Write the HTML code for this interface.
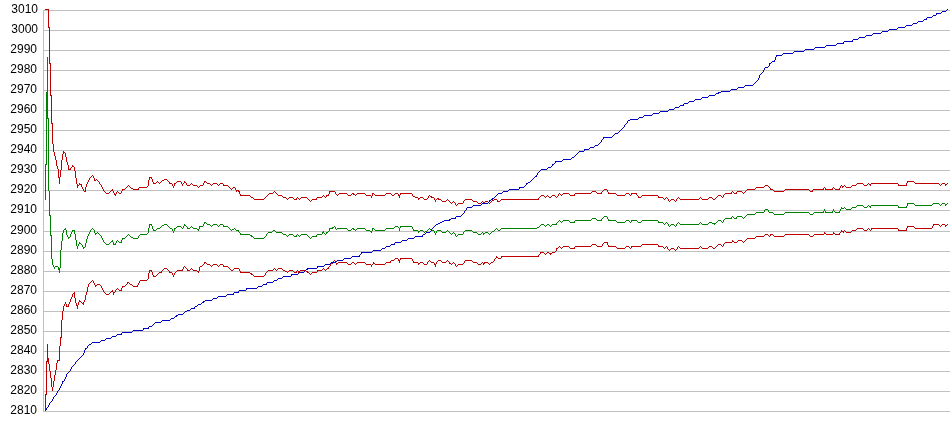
<!DOCTYPE html>
<html><head><meta charset="utf-8"><style>
html,body{margin:0;padding:0;background:#fff;}
body{width:950px;height:435px;overflow:hidden;position:relative;}
svg{position:absolute;left:0;top:0;}
#labs{position:absolute;left:0;top:0;width:40px;height:435px;filter:grayscale(1);}
.l{position:absolute;left:0;width:38px;text-align:right;font-family:"Liberation Sans",sans-serif;font-size:12px;line-height:14px;color:#000;}
</style></head><body>
<svg width="950" height="435" viewBox="0 0 950 435" shape-rendering="crispEdges"><rect x="0" y="0" width="950" height="435" fill="#fff"/><path fill="#c0c0c0" d="M43 10h907v1h-907zM43 30h907v1h-907zM43 50h907v1h-907zM43 70h907v1h-907zM43 90h907v1h-907zM43 110h907v1h-907zM43 130h907v1h-907zM43 150h907v1h-907zM43 170h907v1h-907zM43 190h907v1h-907zM43 210h907v1h-907zM43 231h907v1h-907zM43 251h907v1h-907zM43 271h907v1h-907zM43 291h907v1h-907zM43 311h907v1h-907zM43 331h907v1h-907zM43 351h907v1h-907zM43 371h907v1h-907zM43 391h907v1h-907zM43 411h907v1h-907zM43 10h1v402h-1z"/><path fill="#c00000" d="M45 394h1v17h-1zM46 361h1v34h-1zM47 344h1v18h-1zM48 358h1v6h-1zM49 364h1v7h-1zM50 371h1v7h-1zM51 378h1v9h-1zM52 387h1v4h-1zM53 381h1v6h-1zM54 375h1v6h-1zM55 370h1v5h-1zM56 363h1v7h-1zM57 360h1v3h-1zM58 360h1v1h-1zM59 346h1v15h-1zM60 337h1v9h-1zM61 320h1v18h-1zM62 311h1v9h-1zM63 306h1v5h-1zM64 304h1v2h-1zM65 302h1v2h-1zM66 304h1v3h-1zM67 306h1v1h-1zM68 304h1v3h-1zM69 302h1v2h-1zM70 299h1v3h-1zM71 297h1v2h-1zM72 294h1v3h-1zM73 293h1v1h-1zM74 292h1v6h-1zM75 298h1v5h-1zM76 303h1v3h-1zM77 305h1v4h-1zM78 302h1v3h-1zM79 300h1v2h-1zM80 301h1v1h-1zM81 302h1v1h-1zM82 303h1v1h-1zM83 302h1v3h-1zM84 300h1v2h-1zM85 295h1v5h-1zM86 292h1v3h-1zM87 287h1v5h-1zM88 284h1v3h-1zM89 283h1v1h-1zM90 282h1v1h-1zM91 281h1v1h-1zM92 280h1v1h-1zM93 281h1v2h-1zM94 283h1v2h-1zM95 285h1v2h-1zM96 285h1v1h-1zM97 284h1v1h-1zM98 284h1v1h-1zM99 284h1v1h-1zM100 285h1v1h-1zM101 286h1v2h-1zM102 288h1v2h-1zM103 290h1v2h-1zM104 292h1v1h-1zM105 293h1v1h-1zM106 294h1v1h-1zM107 294h1v1h-1zM108 294h1v1h-1zM109 293h1v1h-1zM110 292h1v1h-1zM111 291h1v1h-1zM112 290h1v2h-1zM113 292h1v3h-1zM114 292h1v1h-1zM115 290h1v2h-1zM116 289h1v1h-1zM117 288h1v1h-1zM118 289h1v1h-1zM119 290h1v1h-1zM120 290h1v1h-1zM121 288h1v3h-1zM122 286h1v2h-1zM123 286h1v1h-1zM124 286h1v1h-1zM125 285h1v1h-1zM126 284h1v1h-1zM127 282h1v2h-1zM128 282h1v1h-1zM129 283h1v1h-1zM130 284h1v1h-1zM131 284h1v1h-1zM132 285h1v1h-1zM133 286h1v1h-1zM134 286h1v1h-1zM135 286h1v1h-1zM136 286h1v1h-1zM137 285h1v2h-1zM138 283h1v2h-1zM139 281h1v2h-1zM140 280h1v1h-1zM141 280h1v1h-1zM142 280h1v1h-1zM143 280h1v1h-1zM144 280h1v1h-1zM145 280h1v1h-1zM146 280h1v1h-1zM147 279h1v1h-1zM148 273h1v6h-1zM149 270h1v3h-1zM150 270h1v1h-1zM151 270h1v2h-1zM152 272h1v3h-1zM153 275h1v2h-1zM154 276h1v1h-1zM155 276h1v1h-1zM156 275h1v1h-1zM157 274h1v1h-1zM158 273h1v1h-1zM159 272h1v1h-1zM160 272h1v1h-1zM161 271h1v2h-1zM162 270h1v1h-1zM163 269h1v1h-1zM164 268h1v1h-1zM165 268h1v1h-1zM166 268h1v1h-1zM167 269h1v1h-1zM168 270h1v1h-1zM169 271h1v2h-1zM170 272h1v1h-1zM171 272h1v1h-1zM172 273h1v2h-1zM173 275h1v2h-1zM174 273h1v2h-1zM175 272h1v1h-1zM176 271h1v1h-1zM177 270h1v1h-1zM178 270h1v1h-1zM179 270h1v1h-1zM180 270h1v1h-1zM181 270h1v1h-1zM182 269h1v2h-1zM183 267h1v2h-1zM184 266h1v1h-1zM185 267h1v1h-1zM186 268h1v1h-1zM187 269h1v2h-1zM188 270h1v1h-1zM189 270h1v1h-1zM190 269h1v1h-1zM191 268h1v1h-1zM192 269h1v1h-1zM193 270h1v1h-1zM194 270h1v1h-1zM195 270h1v1h-1zM196 270h1v1h-1zM197 271h1v1h-1zM198 271h1v2h-1zM199 267h1v4h-1zM200 266h1v1h-1zM201 266h1v1h-1zM202 265h1v1h-1zM203 264h1v1h-1zM204 262h1v2h-1zM205 262h1v1h-1zM206 263h1v1h-1zM207 264h1v1h-1zM208 264h1v1h-1zM209 264h1v1h-1zM210 265h1v1h-1zM211 266h1v1h-1zM212 265h1v1h-1zM213 264h1v1h-1zM214 264h1v1h-1zM215 264h1v1h-1zM216 264h1v1h-1zM217 265h1v1h-1zM218 266h1v1h-1zM219 265h1v1h-1zM220 264h1v1h-1zM221 264h1v1h-1zM222 264h1v1h-1zM223 265h1v2h-1zM224 266h1v1h-1zM225 266h1v1h-1zM226 266h1v1h-1zM227 266h1v1h-1zM228 267h1v1h-1zM229 268h1v1h-1zM230 269h1v1h-1zM231 270h1v1h-1zM232 270h1v1h-1zM233 269h1v1h-1zM234 268h1v1h-1zM235 268h1v1h-1zM236 268h1v1h-1zM237 268h1v1h-1zM238 268h1v1h-1zM239 269h1v2h-1zM240 271h1v2h-1zM241 272h1v1h-1zM242 272h1v1h-1zM243 272h1v1h-1zM244 272h1v1h-1zM245 272h1v1h-1zM246 272h1v1h-1zM247 272h1v1h-1zM248 272h1v1h-1zM249 272h1v1h-1zM250 273h1v1h-1zM251 273h1v2h-1zM252 274h1v1h-1zM253 275h1v1h-1zM254 276h1v1h-1zM255 276h1v1h-1zM256 276h1v1h-1zM257 276h1v1h-1zM258 276h1v1h-1zM259 276h1v1h-1zM260 276h1v1h-1zM261 276h1v1h-1zM262 276h1v1h-1zM263 276h1v1h-1zM264 275h1v1h-1zM265 273h1v2h-1zM266 272h1v1h-1zM267 271h1v1h-1zM268 270h1v1h-1zM269 270h1v1h-1zM270 270h1v1h-1zM271 270h1v1h-1zM272 270h1v1h-1zM273 269h1v1h-1zM274 268h1v1h-1zM275 269h1v1h-1zM276 270h1v1h-1zM277 269h1v1h-1zM278 268h1v1h-1zM279 268h1v1h-1zM280 268h1v1h-1zM281 268h1v1h-1zM282 269h1v1h-1zM283 270h1v1h-1zM284 270h1v1h-1zM285 271h1v1h-1zM286 271h1v1h-1zM287 272h1v1h-1zM288 271h1v1h-1zM289 270h1v1h-1zM290 270h1v1h-1zM291 270h1v1h-1zM292 270h1v1h-1zM293 271h1v1h-1zM294 272h1v1h-1zM295 272h1v1h-1zM296 271h1v2h-1zM297 270h1v1h-1zM298 271h1v2h-1zM299 271h1v1h-1zM300 270h1v1h-1zM301 270h1v1h-1zM302 270h1v1h-1zM303 270h1v1h-1zM304 270h1v1h-1zM305 270h1v1h-1zM306 271h1v1h-1zM307 271h1v2h-1zM308 272h1v1h-1zM309 273h1v1h-1zM310 274h1v1h-1zM311 273h1v1h-1zM312 272h1v1h-1zM313 272h1v1h-1zM314 272h1v1h-1zM315 272h1v1h-1zM316 272h1v1h-1zM317 270h1v2h-1zM318 270h1v1h-1zM319 270h1v1h-1zM320 270h1v1h-1zM321 270h1v1h-1zM322 269h1v1h-1zM323 268h1v1h-1zM324 269h1v1h-1zM325 270h1v1h-1zM326 269h1v1h-1zM327 268h1v1h-1zM328 267h1v2h-1zM329 266h1v1h-1zM330 264h1v2h-1zM331 263h1v1h-1zM332 263h1v1h-1zM333 261h1v2h-1zM334 260h1v1h-1zM335 261h1v2h-1zM336 263h1v2h-1zM337 263h1v1h-1zM338 262h1v1h-1zM339 262h1v1h-1zM340 262h1v1h-1zM341 262h1v1h-1zM342 262h1v1h-1zM343 262h1v1h-1zM344 262h1v1h-1zM345 262h1v1h-1zM346 262h1v1h-1zM347 263h1v1h-1zM348 264h1v1h-1zM349 264h1v1h-1zM350 264h1v1h-1zM351 263h1v1h-1zM352 262h1v1h-1zM353 262h1v1h-1zM354 263h1v1h-1zM355 264h1v1h-1zM356 263h1v1h-1zM357 262h1v1h-1zM358 262h1v1h-1zM359 262h1v1h-1zM360 262h1v1h-1zM361 262h1v1h-1zM362 262h1v1h-1zM363 262h1v1h-1zM364 262h1v1h-1zM365 263h1v1h-1zM366 264h1v1h-1zM367 264h1v1h-1zM368 264h1v1h-1zM369 264h1v1h-1zM370 264h1v1h-1zM371 265h1v2h-1zM372 264h1v1h-1zM373 262h1v2h-1zM374 263h1v1h-1zM375 264h1v1h-1zM376 264h1v1h-1zM377 264h1v1h-1zM378 264h1v1h-1zM379 264h1v1h-1zM380 264h1v1h-1zM381 264h1v1h-1zM382 264h1v1h-1zM383 264h1v1h-1zM384 264h1v1h-1zM385 263h1v1h-1zM386 262h1v1h-1zM387 262h1v1h-1zM388 262h1v1h-1zM389 262h1v1h-1zM390 261h1v2h-1zM391 260h1v1h-1zM392 260h1v1h-1zM393 260h1v1h-1zM394 259h1v1h-1zM395 258h1v1h-1zM396 258h1v1h-1zM397 258h1v1h-1zM398 259h1v2h-1zM399 260h1v3h-1zM400 258h1v2h-1zM401 258h1v1h-1zM402 258h1v1h-1zM403 258h1v1h-1zM404 258h1v1h-1zM405 258h1v1h-1zM406 258h1v1h-1zM407 258h1v1h-1zM408 258h1v1h-1zM409 258h1v1h-1zM410 258h1v1h-1zM411 258h1v1h-1zM412 259h1v2h-1zM413 261h1v2h-1zM414 262h1v1h-1zM415 262h1v1h-1zM416 262h1v1h-1zM417 262h1v1h-1zM418 263h1v2h-1zM419 263h1v1h-1zM420 262h1v1h-1zM421 262h1v1h-1zM422 262h1v1h-1zM423 263h1v1h-1zM424 264h1v1h-1zM425 264h1v1h-1zM426 264h1v1h-1zM427 262h1v2h-1zM428 261h1v1h-1zM429 260h1v1h-1zM430 261h1v1h-1zM431 262h1v1h-1zM432 262h1v1h-1zM433 262h1v1h-1zM434 263h1v2h-1zM435 264h1v3h-1zM436 262h1v2h-1zM437 261h1v1h-1zM438 260h1v1h-1zM439 260h1v1h-1zM440 260h1v1h-1zM441 261h1v1h-1zM442 262h1v1h-1zM443 262h1v1h-1zM444 262h1v1h-1zM445 262h1v1h-1zM446 261h1v1h-1zM447 260h1v1h-1zM448 261h1v1h-1zM449 262h1v2h-1zM450 263h1v1h-1zM451 264h1v1h-1zM452 263h1v1h-1zM453 262h1v1h-1zM454 263h1v1h-1zM455 264h1v2h-1zM456 266h1v1h-1zM457 265h1v1h-1zM458 264h1v1h-1zM459 264h1v1h-1zM460 264h1v1h-1zM461 264h1v1h-1zM462 264h1v1h-1zM463 263h1v1h-1zM464 261h1v2h-1zM465 260h1v1h-1zM466 260h1v1h-1zM467 260h1v1h-1zM468 260h1v1h-1zM469 260h1v1h-1zM470 260h1v1h-1zM471 260h1v1h-1zM472 261h1v1h-1zM473 262h1v1h-1zM474 262h1v1h-1zM475 262h1v1h-1zM476 262h1v1h-1zM477 263h1v1h-1zM478 264h1v1h-1zM479 264h1v1h-1zM480 264h1v1h-1zM481 263h1v1h-1zM482 262h1v1h-1zM483 263h1v2h-1zM484 262h1v2h-1zM485 262h1v1h-1zM486 262h1v1h-1zM487 262h1v1h-1zM488 263h1v1h-1zM489 264h1v1h-1zM490 263h1v1h-1zM491 262h1v1h-1zM492 262h1v1h-1zM493 261h1v1h-1zM494 259h1v2h-1zM495 258h1v1h-1zM496 256h1v2h-1zM497 257h1v1h-1zM498 258h1v1h-1zM499 258h1v1h-1zM500 258h1v1h-1zM501 256h1v2h-1zM502 256h1v1h-1zM503 256h1v1h-1zM504 256h1v1h-1zM505 256h1v1h-1zM506 256h1v1h-1zM507 256h1v1h-1zM508 256h1v1h-1zM509 256h1v1h-1zM510 256h1v1h-1zM511 256h1v1h-1zM512 256h1v1h-1zM513 256h1v1h-1zM514 256h1v1h-1zM515 256h1v1h-1zM516 256h1v1h-1zM517 256h1v1h-1zM518 256h1v1h-1zM519 256h1v1h-1zM520 256h1v1h-1zM521 256h1v1h-1zM522 256h1v1h-1zM523 256h1v1h-1zM524 256h1v1h-1zM525 256h1v1h-1zM526 256h1v1h-1zM527 256h1v1h-1zM528 256h1v1h-1zM529 256h1v1h-1zM530 256h1v1h-1zM531 256h1v1h-1zM532 256h1v1h-1zM533 256h1v1h-1zM534 256h1v1h-1zM535 256h1v1h-1zM536 256h1v1h-1zM537 256h1v1h-1zM538 255h1v2h-1zM539 254h1v1h-1zM540 252h1v2h-1zM541 252h1v1h-1zM542 252h1v1h-1zM543 252h1v1h-1zM544 253h1v1h-1zM545 254h1v1h-1zM546 253h1v1h-1zM547 252h1v1h-1zM548 252h1v1h-1zM549 253h1v1h-1zM550 253h1v2h-1zM551 253h1v1h-1zM552 252h1v1h-1zM553 252h1v1h-1zM554 252h1v1h-1zM555 251h1v1h-1zM556 248h1v3h-1zM557 248h1v1h-1zM558 247h1v1h-1zM559 246h1v1h-1zM560 247h1v1h-1zM561 248h1v1h-1zM562 247h1v1h-1zM563 246h1v1h-1zM564 246h1v1h-1zM565 246h1v1h-1zM566 246h1v1h-1zM567 246h1v1h-1zM568 246h1v1h-1zM569 247h1v1h-1zM570 248h1v1h-1zM571 248h1v1h-1zM572 248h1v1h-1zM573 248h1v1h-1zM574 247h1v2h-1zM575 246h1v1h-1zM576 246h1v1h-1zM577 246h1v1h-1zM578 246h1v1h-1zM579 246h1v1h-1zM580 246h1v1h-1zM581 246h1v1h-1zM582 246h1v1h-1zM583 246h1v1h-1zM584 246h1v1h-1zM585 246h1v1h-1zM586 246h1v1h-1zM587 246h1v1h-1zM588 246h1v1h-1zM589 246h1v1h-1zM590 246h1v1h-1zM591 245h1v1h-1zM592 244h1v1h-1zM593 244h1v1h-1zM594 244h1v1h-1zM595 244h1v1h-1zM596 245h1v1h-1zM597 246h1v1h-1zM598 246h1v1h-1zM599 246h1v1h-1zM600 246h1v1h-1zM601 246h1v1h-1zM602 244h1v2h-1zM603 243h1v1h-1zM604 242h1v1h-1zM605 242h1v1h-1zM606 242h1v1h-1zM607 242h1v3h-1zM608 245h1v2h-1zM609 246h1v1h-1zM610 246h1v1h-1zM611 246h1v1h-1zM612 246h1v1h-1zM613 246h1v1h-1zM614 246h1v1h-1zM615 246h1v1h-1zM616 247h1v1h-1zM617 248h1v1h-1zM618 248h1v1h-1zM619 248h1v1h-1zM620 248h1v1h-1zM621 248h1v1h-1zM622 248h1v1h-1zM623 248h1v1h-1zM624 248h1v1h-1zM625 247h1v1h-1zM626 246h1v1h-1zM627 246h1v1h-1zM628 246h1v1h-1zM629 247h1v1h-1zM630 248h1v1h-1zM631 246h1v2h-1zM632 246h1v1h-1zM633 246h1v1h-1zM634 246h1v1h-1zM635 246h1v1h-1zM636 246h1v1h-1zM637 246h1v1h-1zM638 246h1v1h-1zM639 246h1v1h-1zM640 246h1v1h-1zM641 245h1v1h-1zM642 244h1v1h-1zM643 244h1v1h-1zM644 244h1v1h-1zM645 244h1v1h-1zM646 244h1v1h-1zM647 244h1v1h-1zM648 244h1v1h-1zM649 244h1v1h-1zM650 244h1v1h-1zM651 244h1v1h-1zM652 244h1v1h-1zM653 244h1v1h-1zM654 244h1v1h-1zM655 244h1v1h-1zM656 244h1v1h-1zM657 244h1v1h-1zM658 245h1v2h-1zM659 246h1v1h-1zM660 246h1v1h-1zM661 246h1v1h-1zM662 246h1v1h-1zM663 247h1v1h-1zM664 248h1v1h-1zM665 247h1v1h-1zM666 246h1v1h-1zM667 247h1v2h-1zM668 249h1v1h-1zM669 250h1v1h-1zM670 249h1v1h-1zM671 248h1v1h-1zM672 248h1v1h-1zM673 248h1v1h-1zM674 249h1v1h-1zM675 250h1v1h-1zM676 249h1v1h-1zM677 247h1v2h-1zM678 246h1v1h-1zM679 247h1v1h-1zM680 248h1v1h-1zM681 248h1v1h-1zM682 248h1v1h-1zM683 248h1v1h-1zM684 248h1v1h-1zM685 248h1v1h-1zM686 248h1v1h-1zM687 248h1v1h-1zM688 248h1v1h-1zM689 248h1v1h-1zM690 248h1v1h-1zM691 248h1v1h-1zM692 248h1v1h-1zM693 248h1v1h-1zM694 248h1v1h-1zM695 248h1v1h-1zM696 248h1v1h-1zM697 248h1v1h-1zM698 248h1v1h-1zM699 247h1v1h-1zM700 246h1v1h-1zM701 247h1v1h-1zM702 248h1v1h-1zM703 248h1v1h-1zM704 248h1v1h-1zM705 248h1v1h-1zM706 248h1v1h-1zM707 248h1v1h-1zM708 247h1v1h-1zM709 246h1v1h-1zM710 246h1v1h-1zM711 246h1v1h-1zM712 247h1v1h-1zM713 248h1v1h-1zM714 248h1v1h-1zM715 247h1v1h-1zM716 246h1v1h-1zM717 245h1v1h-1zM718 244h1v1h-1zM719 244h1v1h-1zM720 244h1v1h-1zM721 245h1v1h-1zM722 246h1v1h-1zM723 244h1v2h-1zM724 243h1v1h-1zM725 242h1v1h-1zM726 242h1v1h-1zM727 242h1v1h-1zM728 242h1v1h-1zM729 242h1v1h-1zM730 242h1v1h-1zM731 242h1v1h-1zM732 240h1v2h-1zM733 241h1v1h-1zM734 242h1v1h-1zM735 242h1v1h-1zM736 242h1v1h-1zM737 241h1v1h-1zM738 240h1v1h-1zM739 240h1v1h-1zM740 240h1v1h-1zM741 240h1v1h-1zM742 241h1v1h-1zM743 242h1v1h-1zM744 241h1v1h-1zM745 240h1v1h-1zM746 239h1v1h-1zM747 238h1v1h-1zM748 238h1v1h-1zM749 238h1v1h-1zM750 238h1v1h-1zM751 238h1v1h-1zM752 238h1v1h-1zM753 238h1v1h-1zM754 238h1v1h-1zM755 237h1v1h-1zM756 236h1v1h-1zM757 236h1v1h-1zM758 236h1v1h-1zM759 236h1v1h-1zM760 236h1v1h-1zM761 236h1v1h-1zM762 236h1v1h-1zM763 236h1v1h-1zM764 235h1v1h-1zM765 234h1v1h-1zM766 234h1v1h-1zM767 234h1v1h-1zM768 235h1v1h-1zM769 236h1v1h-1zM770 234h1v2h-1zM771 234h1v1h-1zM772 234h1v1h-1zM773 235h1v1h-1zM774 236h1v1h-1zM775 236h1v1h-1zM776 236h1v1h-1zM777 236h1v1h-1zM778 236h1v1h-1zM779 236h1v1h-1zM780 236h1v1h-1zM781 236h1v1h-1zM782 236h1v1h-1zM783 236h1v1h-1zM784 235h1v1h-1zM785 234h1v1h-1zM786 234h1v1h-1zM787 234h1v1h-1zM788 234h1v1h-1zM789 234h1v1h-1zM790 234h1v1h-1zM791 234h1v1h-1zM792 234h1v1h-1zM793 234h1v1h-1zM794 234h1v1h-1zM795 234h1v1h-1zM796 234h1v1h-1zM797 234h1v1h-1zM798 234h1v1h-1zM799 234h1v1h-1zM800 234h1v1h-1zM801 234h1v1h-1zM802 234h1v1h-1zM803 234h1v1h-1zM804 234h1v1h-1zM805 234h1v1h-1zM806 234h1v1h-1zM807 234h1v1h-1zM808 234h1v1h-1zM809 235h1v1h-1zM810 236h1v1h-1zM811 236h1v1h-1zM812 236h1v1h-1zM813 235h1v1h-1zM814 234h1v1h-1zM815 234h1v1h-1zM816 234h1v1h-1zM817 234h1v1h-1zM818 234h1v1h-1zM819 234h1v1h-1zM820 234h1v1h-1zM821 234h1v1h-1zM822 234h1v1h-1zM823 234h1v1h-1zM824 232h1v2h-1zM825 233h1v1h-1zM826 234h1v1h-1zM827 234h1v1h-1zM828 234h1v1h-1zM829 234h1v1h-1zM830 234h1v1h-1zM831 234h1v1h-1zM832 234h1v1h-1zM833 232h1v2h-1zM834 233h1v1h-1zM835 234h1v1h-1zM836 234h1v1h-1zM837 234h1v1h-1zM838 234h1v1h-1zM839 233h1v2h-1zM840 232h1v1h-1zM841 230h1v2h-1zM842 231h1v1h-1zM843 231h1v2h-1zM844 230h1v1h-1zM845 231h1v1h-1zM846 232h1v1h-1zM847 232h1v1h-1zM848 232h1v1h-1zM849 232h1v1h-1zM850 232h1v1h-1zM851 231h1v1h-1zM852 230h1v1h-1zM853 230h1v1h-1zM854 230h1v1h-1zM855 230h1v1h-1zM856 229h1v1h-1zM857 228h1v1h-1zM858 228h1v1h-1zM859 228h1v1h-1zM860 228h1v1h-1zM861 228h1v1h-1zM862 228h1v1h-1zM863 229h1v1h-1zM864 230h1v1h-1zM865 230h1v1h-1zM866 230h1v1h-1zM867 229h1v1h-1zM868 228h1v1h-1zM869 229h1v1h-1zM870 230h1v1h-1zM871 228h1v2h-1zM872 228h1v1h-1zM873 228h1v1h-1zM874 228h1v1h-1zM875 228h1v1h-1zM876 228h1v1h-1zM877 228h1v1h-1zM878 228h1v1h-1zM879 228h1v1h-1zM880 228h1v1h-1zM881 228h1v1h-1zM882 228h1v1h-1zM883 228h1v1h-1zM884 228h1v1h-1zM885 228h1v1h-1zM886 228h1v1h-1zM887 228h1v1h-1zM888 228h1v1h-1zM889 228h1v1h-1zM890 228h1v1h-1zM891 228h1v1h-1zM892 228h1v1h-1zM893 228h1v1h-1zM894 228h1v1h-1zM895 228h1v1h-1zM896 228h1v1h-1zM897 228h1v1h-1zM898 229h1v2h-1zM899 230h1v1h-1zM900 230h1v1h-1zM901 230h1v1h-1zM902 230h1v1h-1zM903 230h1v1h-1zM904 230h1v1h-1zM905 230h1v1h-1zM906 228h1v3h-1zM907 226h1v2h-1zM908 226h1v1h-1zM909 226h1v1h-1zM910 226h1v1h-1zM911 226h1v1h-1zM912 226h1v1h-1zM913 226h1v1h-1zM914 227h1v1h-1zM915 228h1v1h-1zM916 228h1v1h-1zM917 228h1v1h-1zM918 228h1v1h-1zM919 228h1v1h-1zM920 228h1v1h-1zM921 228h1v1h-1zM922 228h1v1h-1zM923 228h1v1h-1zM924 228h1v1h-1zM925 228h1v1h-1zM926 228h1v1h-1zM927 228h1v1h-1zM928 228h1v1h-1zM929 228h1v1h-1zM930 228h1v1h-1zM931 228h1v1h-1zM932 226h1v2h-1zM933 224h1v2h-1zM934 224h1v1h-1zM935 224h1v1h-1zM936 224h1v1h-1zM937 224h1v1h-1zM938 224h1v1h-1zM939 225h1v1h-1zM940 226h1v1h-1zM941 225h1v1h-1zM942 224h1v1h-1zM943 224h1v1h-1zM944 224h1v1h-1zM945 225h1v2h-1zM946 225h1v1h-1zM947 224h1v1h-1z"/><path fill="#008000" d="M45 164h1v36h-1zM46 92h1v73h-1zM47 57h1v62h-1zM48 118h1v73h-1zM49 191h1v25h-1zM50 215h1v21h-1zM51 235h1v24h-1zM52 259h1v6h-1zM53 265h1v2h-1zM54 267h1v2h-1zM55 266h1v1h-1zM56 266h1v1h-1zM57 266h1v1h-1zM58 267h1v3h-1zM59 268h1v5h-1zM60 250h1v18h-1zM61 241h1v9h-1zM62 233h1v8h-1zM63 230h1v3h-1zM64 229h1v1h-1zM65 228h1v2h-1zM66 230h1v5h-1zM67 235h1v2h-1zM68 237h1v2h-1zM69 237h1v1h-1zM70 234h1v3h-1zM71 232h1v2h-1zM72 230h1v2h-1zM73 230h1v1h-1zM74 230h1v4h-1zM75 234h1v6h-1zM76 240h1v6h-1zM77 246h1v3h-1zM78 244h1v2h-1zM79 242h1v2h-1zM80 243h1v1h-1zM81 244h1v1h-1zM82 245h1v2h-1zM83 247h1v2h-1zM84 247h1v1h-1zM85 243h1v4h-1zM86 239h1v4h-1zM87 236h1v3h-1zM88 234h1v2h-1zM89 232h1v2h-1zM90 230h1v2h-1zM91 229h1v1h-1zM92 228h1v1h-1zM93 229h1v1h-1zM94 230h1v3h-1zM95 233h1v2h-1zM96 233h1v1h-1zM97 232h1v1h-1zM98 233h1v1h-1zM99 234h1v1h-1zM100 235h1v1h-1zM101 236h1v2h-1zM102 238h1v2h-1zM103 240h1v2h-1zM104 242h1v1h-1zM105 243h1v1h-1zM106 244h1v1h-1zM107 244h1v1h-1zM108 244h1v1h-1zM109 243h1v1h-1zM110 242h1v1h-1zM111 241h1v1h-1zM112 240h1v2h-1zM113 242h1v3h-1zM114 244h1v1h-1zM115 243h1v2h-1zM116 241h1v2h-1zM117 240h1v1h-1zM118 241h1v1h-1zM119 242h1v1h-1zM120 242h1v1h-1zM121 240h1v3h-1zM122 238h1v2h-1zM123 238h1v1h-1zM124 238h1v1h-1zM125 237h1v1h-1zM126 236h1v1h-1zM127 235h1v1h-1zM128 234h1v1h-1zM129 235h1v1h-1zM130 236h1v1h-1zM131 237h1v1h-1zM132 237h1v1h-1zM133 238h1v1h-1zM134 238h1v1h-1zM135 238h1v1h-1zM136 238h1v1h-1zM137 238h1v1h-1zM138 236h1v2h-1zM139 235h1v1h-1zM140 234h1v1h-1zM141 234h1v1h-1zM142 234h1v1h-1zM143 234h1v1h-1zM144 234h1v1h-1zM145 234h1v1h-1zM146 234h1v1h-1zM147 233h1v1h-1zM148 228h1v5h-1zM149 224h1v4h-1zM150 224h1v1h-1zM151 224h1v2h-1zM152 226h1v3h-1zM153 229h1v2h-1zM154 230h1v1h-1zM155 230h1v1h-1zM156 229h1v1h-1zM157 228h1v1h-1zM158 228h1v1h-1zM159 228h1v1h-1zM160 227h1v1h-1zM161 226h1v1h-1zM162 225h1v1h-1zM163 225h1v1h-1zM164 224h1v1h-1zM165 224h1v1h-1zM166 224h1v1h-1zM167 225h1v1h-1zM168 226h1v1h-1zM169 227h1v1h-1zM170 228h1v1h-1zM171 228h1v1h-1zM172 229h1v2h-1zM173 231h1v2h-1zM174 228h1v3h-1zM175 228h1v1h-1zM176 227h1v1h-1zM177 226h1v1h-1zM178 226h1v1h-1zM179 226h1v1h-1zM180 226h1v1h-1zM181 227h1v1h-1zM182 228h1v1h-1zM183 226h1v2h-1zM184 224h1v2h-1zM185 225h1v1h-1zM186 226h1v1h-1zM187 227h1v2h-1zM188 228h1v1h-1zM189 228h1v1h-1zM190 227h1v1h-1zM191 226h1v1h-1zM192 227h1v1h-1zM193 228h1v1h-1zM194 228h1v1h-1zM195 228h1v1h-1zM196 228h1v1h-1zM197 229h1v1h-1zM198 229h1v2h-1zM199 226h1v3h-1zM200 226h1v1h-1zM201 226h1v1h-1zM202 226h1v1h-1zM203 224h1v2h-1zM204 222h1v2h-1zM205 222h1v1h-1zM206 223h1v1h-1zM207 224h1v1h-1zM208 224h1v1h-1zM209 224h1v1h-1zM210 225h1v1h-1zM211 226h1v1h-1zM212 225h1v1h-1zM213 224h1v1h-1zM214 224h1v1h-1zM215 224h1v1h-1zM216 224h1v1h-1zM217 225h1v1h-1zM218 226h1v1h-1zM219 225h1v1h-1zM220 224h1v1h-1zM221 224h1v1h-1zM222 224h1v1h-1zM223 225h1v2h-1zM224 226h1v1h-1zM225 226h1v1h-1zM226 226h1v1h-1zM227 226h1v1h-1zM228 227h1v1h-1zM229 228h1v1h-1zM230 229h1v1h-1zM231 230h1v1h-1zM232 229h1v1h-1zM233 229h1v1h-1zM234 228h1v1h-1zM235 229h1v1h-1zM236 230h1v1h-1zM237 230h1v1h-1zM238 230h1v2h-1zM239 232h1v1h-1zM240 233h1v2h-1zM241 234h1v1h-1zM242 234h1v1h-1zM243 234h1v1h-1zM244 234h1v1h-1zM245 234h1v1h-1zM246 234h1v1h-1zM247 234h1v1h-1zM248 234h1v1h-1zM249 234h1v1h-1zM250 235h1v1h-1zM251 235h1v2h-1zM252 236h1v1h-1zM253 237h1v1h-1zM254 238h1v1h-1zM255 238h1v1h-1zM256 238h1v1h-1zM257 238h1v1h-1zM258 238h1v1h-1zM259 238h1v1h-1zM260 238h1v1h-1zM261 238h1v1h-1zM262 238h1v1h-1zM263 238h1v1h-1zM264 237h1v1h-1zM265 236h1v1h-1zM266 234h1v2h-1zM267 233h1v1h-1zM268 232h1v1h-1zM269 232h1v1h-1zM270 232h1v1h-1zM271 232h1v1h-1zM272 231h1v1h-1zM273 230h1v1h-1zM274 230h1v1h-1zM275 231h1v1h-1zM276 232h1v1h-1zM277 232h1v1h-1zM278 232h1v1h-1zM279 232h1v1h-1zM280 232h1v1h-1zM281 232h1v1h-1zM282 233h1v1h-1zM283 234h1v1h-1zM284 234h1v1h-1zM285 234h1v1h-1zM286 235h1v1h-1zM287 236h1v1h-1zM288 235h1v1h-1zM289 234h1v1h-1zM290 234h1v1h-1zM291 234h1v1h-1zM292 234h1v1h-1zM293 235h1v1h-1zM294 236h1v1h-1zM295 236h1v1h-1zM296 235h1v2h-1zM297 234h1v1h-1zM298 235h1v1h-1zM299 236h1v1h-1zM300 235h1v1h-1zM301 234h1v1h-1zM302 234h1v1h-1zM303 234h1v1h-1zM304 234h1v1h-1zM305 234h1v1h-1zM306 234h1v1h-1zM307 235h1v1h-1zM308 236h1v1h-1zM309 237h1v1h-1zM310 238h1v1h-1zM311 237h1v1h-1zM312 236h1v1h-1zM313 236h1v1h-1zM314 236h1v1h-1zM315 236h1v1h-1zM316 235h1v2h-1zM317 234h1v1h-1zM318 234h1v1h-1zM319 234h1v1h-1zM320 234h1v1h-1zM321 234h1v1h-1zM322 232h1v2h-1zM323 231h1v2h-1zM324 233h1v1h-1zM325 234h1v1h-1zM326 232h1v2h-1zM327 232h1v1h-1zM328 231h1v1h-1zM329 228h1v3h-1zM330 228h1v1h-1zM331 228h1v1h-1zM332 227h1v2h-1zM333 227h1v1h-1zM334 226h1v1h-1zM335 227h1v2h-1zM336 229h1v1h-1zM337 228h1v1h-1zM338 228h1v1h-1zM339 228h1v1h-1zM340 228h1v1h-1zM341 228h1v1h-1zM342 228h1v1h-1zM343 228h1v1h-1zM344 228h1v1h-1zM345 228h1v1h-1zM346 228h1v1h-1zM347 229h1v1h-1zM348 230h1v1h-1zM349 230h1v1h-1zM350 230h1v1h-1zM351 229h1v1h-1zM352 228h1v1h-1zM353 228h1v2h-1zM354 229h1v1h-1zM355 230h1v1h-1zM356 229h1v1h-1zM357 228h1v1h-1zM358 228h1v1h-1zM359 228h1v1h-1zM360 228h1v1h-1zM361 228h1v1h-1zM362 228h1v1h-1zM363 228h1v1h-1zM364 228h1v1h-1zM365 229h1v1h-1zM366 230h1v1h-1zM367 230h1v1h-1zM368 230h1v1h-1zM369 230h1v1h-1zM370 231h1v1h-1zM371 231h1v2h-1zM372 228h1v3h-1zM373 228h1v1h-1zM374 229h1v1h-1zM375 230h1v1h-1zM376 230h1v1h-1zM377 230h1v1h-1zM378 230h1v1h-1zM379 230h1v1h-1zM380 230h1v1h-1zM381 230h1v1h-1zM382 230h1v1h-1zM383 230h1v1h-1zM384 230h1v1h-1zM385 229h1v1h-1zM386 228h1v1h-1zM387 228h1v1h-1zM388 228h1v1h-1zM389 228h1v1h-1zM390 228h1v1h-1zM391 228h1v1h-1zM392 228h1v1h-1zM393 228h1v1h-1zM394 227h1v1h-1zM395 226h1v1h-1zM396 226h1v1h-1zM397 226h1v1h-1zM398 227h1v1h-1zM399 228h1v3h-1zM400 226h1v2h-1zM401 226h1v1h-1zM402 226h1v1h-1zM403 226h1v1h-1zM404 226h1v1h-1zM405 226h1v1h-1zM406 226h1v1h-1zM407 226h1v1h-1zM408 226h1v1h-1zM409 226h1v1h-1zM410 226h1v1h-1zM411 226h1v1h-1zM412 227h1v2h-1zM413 229h1v2h-1zM414 230h1v1h-1zM415 230h1v1h-1zM416 230h1v1h-1zM417 230h1v1h-1zM418 231h1v2h-1zM419 231h1v1h-1zM420 230h1v1h-1zM421 230h1v1h-1zM422 230h1v1h-1zM423 231h1v1h-1zM424 232h1v1h-1zM425 231h1v1h-1zM426 231h1v1h-1zM427 230h1v1h-1zM428 229h1v1h-1zM429 228h1v1h-1zM430 229h1v1h-1zM431 230h1v1h-1zM432 230h1v1h-1zM433 230h1v1h-1zM434 231h1v2h-1zM435 233h1v2h-1zM436 231h1v2h-1zM437 230h1v1h-1zM438 230h1v1h-1zM439 230h1v1h-1zM440 230h1v1h-1zM441 231h1v1h-1zM442 232h1v1h-1zM443 232h1v1h-1zM444 232h1v1h-1zM445 232h1v1h-1zM446 231h1v1h-1zM447 230h1v1h-1zM448 231h1v1h-1zM449 232h1v1h-1zM450 233h1v1h-1zM451 234h1v1h-1zM452 233h1v1h-1zM453 232h1v1h-1zM454 233h1v1h-1zM455 234h1v2h-1zM456 236h1v1h-1zM457 235h1v1h-1zM458 234h1v1h-1zM459 234h1v1h-1zM460 234h1v1h-1zM461 234h1v1h-1zM462 234h1v1h-1zM463 232h1v2h-1zM464 231h1v1h-1zM465 230h1v1h-1zM466 230h1v1h-1zM467 230h1v1h-1zM468 230h1v1h-1zM469 230h1v1h-1zM470 230h1v1h-1zM471 230h1v1h-1zM472 231h1v1h-1zM473 232h1v1h-1zM474 232h1v1h-1zM475 232h1v1h-1zM476 232h1v1h-1zM477 233h1v1h-1zM478 234h1v1h-1zM479 234h1v1h-1zM480 234h1v1h-1zM481 233h1v1h-1zM482 232h1v1h-1zM483 233h1v2h-1zM484 233h1v1h-1zM485 232h1v1h-1zM486 232h1v1h-1zM487 232h1v1h-1zM488 233h1v1h-1zM489 234h1v1h-1zM490 233h1v1h-1zM491 232h1v1h-1zM492 231h1v1h-1zM493 231h1v1h-1zM494 230h1v1h-1zM495 229h1v1h-1zM496 228h1v1h-1zM497 229h1v1h-1zM498 230h1v1h-1zM499 230h1v1h-1zM500 229h1v1h-1zM501 228h1v1h-1zM502 228h1v1h-1zM503 228h1v1h-1zM504 228h1v1h-1zM505 228h1v1h-1zM506 228h1v1h-1zM507 228h1v1h-1zM508 228h1v1h-1zM509 228h1v1h-1zM510 228h1v1h-1zM511 228h1v1h-1zM512 228h1v1h-1zM513 228h1v1h-1zM514 228h1v1h-1zM515 228h1v1h-1zM516 228h1v1h-1zM517 228h1v1h-1zM518 228h1v1h-1zM519 228h1v1h-1zM520 228h1v1h-1zM521 228h1v1h-1zM522 228h1v1h-1zM523 228h1v1h-1zM524 228h1v1h-1zM525 228h1v1h-1zM526 228h1v1h-1zM527 228h1v1h-1zM528 228h1v1h-1zM529 228h1v1h-1zM530 228h1v1h-1zM531 228h1v1h-1zM532 228h1v1h-1zM533 228h1v1h-1zM534 228h1v1h-1zM535 228h1v1h-1zM536 228h1v1h-1zM537 227h1v1h-1zM538 227h1v1h-1zM539 226h1v1h-1zM540 225h1v1h-1zM541 224h1v1h-1zM542 224h1v1h-1zM543 224h1v1h-1zM544 225h1v1h-1zM545 226h1v1h-1zM546 225h1v1h-1zM547 224h1v1h-1zM548 224h1v1h-1zM549 225h1v1h-1zM550 226h1v1h-1zM551 225h1v1h-1zM552 224h1v1h-1zM553 224h1v1h-1zM554 224h1v1h-1zM555 224h1v1h-1zM556 223h1v2h-1zM557 222h1v1h-1zM558 221h1v1h-1zM559 220h1v1h-1zM560 221h1v1h-1zM561 222h1v1h-1zM562 221h1v1h-1zM563 220h1v1h-1zM564 220h1v1h-1zM565 220h1v1h-1zM566 220h1v1h-1zM567 220h1v1h-1zM568 220h1v1h-1zM569 221h1v1h-1zM570 222h1v1h-1zM571 222h1v1h-1zM572 222h1v1h-1zM573 222h1v1h-1zM574 221h1v2h-1zM575 220h1v1h-1zM576 220h1v1h-1zM577 220h1v1h-1zM578 220h1v1h-1zM579 220h1v1h-1zM580 220h1v1h-1zM581 220h1v1h-1zM582 220h1v1h-1zM583 220h1v1h-1zM584 220h1v1h-1zM585 220h1v1h-1zM586 220h1v1h-1zM587 220h1v1h-1zM588 220h1v1h-1zM589 220h1v1h-1zM590 220h1v1h-1zM591 219h1v1h-1zM592 218h1v1h-1zM593 218h1v1h-1zM594 218h1v1h-1zM595 218h1v1h-1zM596 219h1v1h-1zM597 220h1v1h-1zM598 220h1v1h-1zM599 220h1v1h-1zM600 220h1v1h-1zM601 219h1v2h-1zM602 218h1v1h-1zM603 217h1v1h-1zM604 216h1v1h-1zM605 216h1v1h-1zM606 216h1v1h-1zM607 217h1v2h-1zM608 219h1v2h-1zM609 220h1v1h-1zM610 220h1v1h-1zM611 220h1v1h-1zM612 220h1v1h-1zM613 220h1v1h-1zM614 220h1v1h-1zM615 220h1v1h-1zM616 221h1v1h-1zM617 222h1v1h-1zM618 222h1v1h-1zM619 222h1v1h-1zM620 222h1v1h-1zM621 222h1v1h-1zM622 222h1v1h-1zM623 222h1v1h-1zM624 222h1v1h-1zM625 221h1v1h-1zM626 220h1v1h-1zM627 220h1v1h-1zM628 220h1v1h-1zM629 221h1v1h-1zM630 222h1v1h-1zM631 220h1v2h-1zM632 220h1v1h-1zM633 220h1v1h-1zM634 220h1v1h-1zM635 220h1v1h-1zM636 220h1v1h-1zM637 221h1v1h-1zM638 222h1v1h-1zM639 222h1v1h-1zM640 222h1v1h-1zM641 221h1v1h-1zM642 220h1v1h-1zM643 220h1v1h-1zM644 220h1v1h-1zM645 220h1v1h-1zM646 220h1v1h-1zM647 220h1v1h-1zM648 220h1v1h-1zM649 220h1v1h-1zM650 220h1v1h-1zM651 220h1v1h-1zM652 220h1v1h-1zM653 220h1v1h-1zM654 220h1v1h-1zM655 220h1v1h-1zM656 220h1v1h-1zM657 220h1v1h-1zM658 221h1v2h-1zM659 222h1v1h-1zM660 222h1v1h-1zM661 222h1v1h-1zM662 222h1v1h-1zM663 223h1v1h-1zM664 224h1v1h-1zM665 223h1v1h-1zM666 222h1v1h-1zM667 223h1v1h-1zM668 224h1v2h-1zM669 226h1v1h-1zM670 225h1v1h-1zM671 224h1v1h-1zM672 224h1v1h-1zM673 224h1v1h-1zM674 225h1v1h-1zM675 226h1v1h-1zM676 224h1v2h-1zM677 223h1v1h-1zM678 222h1v1h-1zM679 223h1v1h-1zM680 224h1v1h-1zM681 224h1v1h-1zM682 224h1v1h-1zM683 224h1v1h-1zM684 224h1v1h-1zM685 224h1v1h-1zM686 224h1v1h-1zM687 224h1v1h-1zM688 224h1v1h-1zM689 224h1v1h-1zM690 224h1v1h-1zM691 224h1v1h-1zM692 224h1v1h-1zM693 224h1v1h-1zM694 224h1v1h-1zM695 224h1v1h-1zM696 224h1v1h-1zM697 224h1v1h-1zM698 224h1v1h-1zM699 223h1v1h-1zM700 222h1v1h-1zM701 223h1v1h-1zM702 224h1v1h-1zM703 224h1v1h-1zM704 224h1v1h-1zM705 224h1v1h-1zM706 224h1v1h-1zM707 224h1v1h-1zM708 223h1v1h-1zM709 222h1v1h-1zM710 222h1v1h-1zM711 222h1v1h-1zM712 223h1v1h-1zM713 223h1v1h-1zM714 223h1v2h-1zM715 223h1v1h-1zM716 222h1v1h-1zM717 221h1v1h-1zM718 220h1v1h-1zM719 220h1v1h-1zM720 220h1v1h-1zM721 221h1v1h-1zM722 222h1v1h-1zM723 220h1v2h-1zM724 219h1v1h-1zM725 218h1v1h-1zM726 218h1v1h-1zM727 218h1v1h-1zM728 218h1v1h-1zM729 218h1v1h-1zM730 218h1v1h-1zM731 217h1v2h-1zM732 216h1v1h-1zM733 217h1v1h-1zM734 218h1v1h-1zM735 218h1v1h-1zM736 217h1v2h-1zM737 216h1v1h-1zM738 216h1v1h-1zM739 216h1v1h-1zM740 216h1v1h-1zM741 216h1v1h-1zM742 217h1v1h-1zM743 218h1v1h-1zM744 217h1v1h-1zM745 216h1v1h-1zM746 215h1v1h-1zM747 214h1v1h-1zM748 214h1v1h-1zM749 214h1v1h-1zM750 214h1v1h-1zM751 214h1v1h-1zM752 214h1v1h-1zM753 214h1v1h-1zM754 214h1v1h-1zM755 213h1v1h-1zM756 212h1v1h-1zM757 212h1v1h-1zM758 212h1v1h-1zM759 212h1v1h-1zM760 212h1v1h-1zM761 212h1v1h-1zM762 212h1v1h-1zM763 212h1v1h-1zM764 210h1v2h-1zM765 209h1v1h-1zM766 209h1v1h-1zM767 209h1v1h-1zM768 210h1v2h-1zM769 212h1v1h-1zM770 212h1v1h-1zM771 212h1v1h-1zM772 212h1v1h-1zM773 213h1v1h-1zM774 214h1v1h-1zM775 214h1v1h-1zM776 214h1v1h-1zM777 214h1v1h-1zM778 214h1v1h-1zM779 214h1v1h-1zM780 214h1v1h-1zM781 214h1v1h-1zM782 214h1v1h-1zM783 214h1v1h-1zM784 213h1v1h-1zM785 212h1v1h-1zM786 212h1v1h-1zM787 212h1v1h-1zM788 212h1v1h-1zM789 212h1v1h-1zM790 212h1v1h-1zM791 212h1v1h-1zM792 212h1v1h-1zM793 212h1v1h-1zM794 212h1v1h-1zM795 212h1v1h-1zM796 212h1v1h-1zM797 212h1v1h-1zM798 212h1v1h-1zM799 212h1v1h-1zM800 212h1v1h-1zM801 212h1v1h-1zM802 212h1v1h-1zM803 212h1v1h-1zM804 212h1v1h-1zM805 212h1v1h-1zM806 212h1v1h-1zM807 212h1v1h-1zM808 212h1v1h-1zM809 213h1v1h-1zM810 214h1v1h-1zM811 214h1v1h-1zM812 214h1v1h-1zM813 213h1v1h-1zM814 212h1v1h-1zM815 212h1v1h-1zM816 212h1v1h-1zM817 212h1v1h-1zM818 212h1v1h-1zM819 212h1v1h-1zM820 212h1v1h-1zM821 212h1v1h-1zM822 212h1v1h-1zM823 211h1v2h-1zM824 209h1v2h-1zM825 211h1v2h-1zM826 212h1v1h-1zM827 212h1v1h-1zM828 212h1v1h-1zM829 212h1v1h-1zM830 212h1v1h-1zM831 212h1v1h-1zM832 211h1v2h-1zM833 209h1v2h-1zM834 211h1v1h-1zM835 212h1v1h-1zM836 212h1v1h-1zM837 212h1v1h-1zM838 212h1v1h-1zM839 211h1v2h-1zM840 209h1v2h-1zM841 207h1v2h-1zM842 208h1v1h-1zM843 208h1v1h-1zM844 207h1v1h-1zM845 208h1v1h-1zM846 209h1v1h-1zM847 209h1v1h-1zM848 209h1v1h-1zM849 209h1v1h-1zM850 209h1v1h-1zM851 208h1v1h-1zM852 207h1v1h-1zM853 207h1v1h-1zM854 207h1v1h-1zM855 207h1v1h-1zM856 206h1v1h-1zM857 205h1v1h-1zM858 205h1v1h-1zM859 205h1v1h-1zM860 205h1v1h-1zM861 205h1v1h-1zM862 205h1v1h-1zM863 206h1v1h-1zM864 207h1v1h-1zM865 207h1v1h-1zM866 207h1v1h-1zM867 206h1v1h-1zM868 205h1v1h-1zM869 206h1v1h-1zM870 206h1v2h-1zM871 205h1v1h-1zM872 205h1v1h-1zM873 205h1v1h-1zM874 205h1v1h-1zM875 205h1v1h-1zM876 205h1v1h-1zM877 205h1v1h-1zM878 205h1v1h-1zM879 205h1v1h-1zM880 205h1v1h-1zM881 205h1v1h-1zM882 205h1v1h-1zM883 205h1v1h-1zM884 205h1v1h-1zM885 205h1v1h-1zM886 205h1v1h-1zM887 205h1v1h-1zM888 205h1v1h-1zM889 205h1v1h-1zM890 205h1v1h-1zM891 205h1v1h-1zM892 205h1v1h-1zM893 205h1v1h-1zM894 205h1v1h-1zM895 205h1v1h-1zM896 205h1v1h-1zM897 205h1v1h-1zM898 206h1v2h-1zM899 207h1v1h-1zM900 207h1v1h-1zM901 207h1v1h-1zM902 207h1v1h-1zM903 207h1v1h-1zM904 207h1v1h-1zM905 207h1v1h-1zM906 206h1v2h-1zM907 203h1v3h-1zM908 203h1v1h-1zM909 203h1v1h-1zM910 203h1v1h-1zM911 203h1v1h-1zM912 203h1v1h-1zM913 203h1v1h-1zM914 204h1v1h-1zM915 205h1v1h-1zM916 205h1v1h-1zM917 205h1v1h-1zM918 205h1v1h-1zM919 205h1v1h-1zM920 205h1v1h-1zM921 205h1v1h-1zM922 205h1v1h-1zM923 205h1v1h-1zM924 205h1v1h-1zM925 205h1v1h-1zM926 205h1v1h-1zM927 205h1v1h-1zM928 205h1v1h-1zM929 205h1v1h-1zM930 205h1v1h-1zM931 205h1v1h-1zM932 204h1v1h-1zM933 203h1v1h-1zM934 203h1v1h-1zM935 203h1v1h-1zM936 203h1v1h-1zM937 203h1v1h-1zM938 203h1v1h-1zM939 204h1v1h-1zM940 205h1v1h-1zM941 204h1v1h-1zM942 203h1v1h-1zM943 203h1v1h-1zM944 203h1v1h-1zM945 204h1v2h-1zM946 204h1v1h-1zM947 203h1v1h-1z"/><path fill="#c00000" d="M45 9h1v1h-1zM46 9h1v1h-1zM47 9h1v1h-1zM48 9h1v19h-1zM49 27h1v37h-1zM50 63h1v33h-1zM51 95h1v29h-1zM52 123h1v21h-1zM53 144h1v8h-1zM54 152h1v4h-1zM55 156h1v4h-1zM56 160h1v6h-1zM57 166h1v3h-1zM58 169h1v9h-1zM59 177h1v7h-1zM60 170h1v7h-1zM61 160h1v10h-1zM62 154h1v6h-1zM63 151h1v3h-1zM64 152h1v1h-1zM65 153h1v4h-1zM66 157h1v5h-1zM67 162h1v3h-1zM68 165h1v5h-1zM69 169h1v1h-1zM70 168h1v2h-1zM71 167h1v1h-1zM72 165h1v2h-1zM73 166h1v1h-1zM74 167h1v4h-1zM75 171h1v7h-1zM76 178h1v6h-1zM77 184h1v4h-1zM78 185h1v1h-1zM79 183h1v2h-1zM80 184h1v1h-1zM81 184h1v3h-1zM82 187h1v2h-1zM83 189h1v2h-1zM84 191h1v1h-1zM85 187h1v5h-1zM86 184h1v3h-1zM87 182h1v2h-1zM88 180h1v2h-1zM89 178h1v2h-1zM90 177h1v1h-1zM91 176h1v1h-1zM92 175h1v1h-1zM93 176h1v2h-1zM94 178h1v3h-1zM95 180h1v1h-1zM96 179h1v1h-1zM97 180h1v1h-1zM98 181h1v1h-1zM99 182h1v2h-1zM100 184h1v1h-1zM101 185h1v2h-1zM102 187h1v2h-1zM103 189h1v2h-1zM104 191h1v1h-1zM105 192h1v1h-1zM106 193h1v1h-1zM107 193h1v1h-1zM108 193h1v1h-1zM109 192h1v1h-1zM110 191h1v1h-1zM111 190h1v1h-1zM112 189h1v2h-1zM113 191h1v2h-1zM114 193h1v2h-1zM115 194h1v2h-1zM116 192h1v2h-1zM117 191h1v1h-1zM118 192h1v1h-1zM119 193h1v1h-1zM120 193h1v1h-1zM121 191h1v2h-1zM122 189h1v2h-1zM123 189h1v1h-1zM124 189h1v1h-1zM125 188h1v1h-1zM126 187h1v1h-1zM127 186h1v1h-1zM128 185h1v1h-1zM129 186h1v1h-1zM130 187h1v1h-1zM131 188h1v1h-1zM132 188h1v1h-1zM133 189h1v1h-1zM134 189h1v1h-1zM135 189h1v1h-1zM136 189h1v1h-1zM137 189h1v1h-1zM138 188h1v2h-1zM139 187h1v1h-1zM140 187h1v1h-1zM141 187h1v1h-1zM142 187h1v1h-1zM143 187h1v1h-1zM144 187h1v1h-1zM145 187h1v1h-1zM146 187h1v1h-1zM147 186h1v1h-1zM148 180h1v6h-1zM149 177h1v3h-1zM150 177h1v1h-1zM151 177h1v2h-1zM152 179h1v3h-1zM153 182h1v2h-1zM154 183h1v1h-1zM155 183h1v1h-1zM156 182h1v1h-1zM157 181h1v1h-1zM158 182h1v1h-1zM159 183h1v1h-1zM160 182h1v1h-1zM161 181h1v1h-1zM162 180h1v1h-1zM163 180h1v1h-1zM164 179h1v1h-1zM165 179h1v1h-1zM166 179h1v1h-1zM167 180h1v1h-1zM168 181h1v1h-1zM169 182h1v2h-1zM170 183h1v1h-1zM171 183h1v1h-1zM172 184h1v2h-1zM173 186h1v2h-1zM174 183h1v3h-1zM175 183h1v1h-1zM176 182h1v1h-1zM177 181h1v1h-1zM178 181h1v1h-1zM179 181h1v1h-1zM180 181h1v1h-1zM181 182h1v2h-1zM182 184h1v2h-1zM183 183h1v1h-1zM184 181h1v2h-1zM185 182h1v1h-1zM186 183h1v2h-1zM187 185h1v1h-1zM188 185h1v1h-1zM189 185h1v1h-1zM190 184h1v1h-1zM191 183h1v1h-1zM192 184h1v1h-1zM193 185h1v1h-1zM194 185h1v1h-1zM195 185h1v1h-1zM196 185h1v1h-1zM197 186h1v1h-1zM198 187h1v1h-1zM199 186h1v1h-1zM200 185h1v1h-1zM201 185h1v1h-1zM202 185h1v1h-1zM203 183h1v2h-1zM204 181h1v2h-1zM205 181h1v1h-1zM206 182h1v1h-1zM207 183h1v1h-1zM208 183h1v1h-1zM209 183h1v1h-1zM210 184h1v1h-1zM211 185h1v1h-1zM212 184h1v1h-1zM213 183h1v1h-1zM214 183h1v1h-1zM215 183h1v1h-1zM216 183h1v1h-1zM217 184h1v1h-1zM218 185h1v1h-1zM219 184h1v1h-1zM220 183h1v1h-1zM221 183h1v1h-1zM222 183h1v1h-1zM223 184h1v2h-1zM224 185h1v1h-1zM225 185h1v1h-1zM226 185h1v1h-1zM227 185h1v1h-1zM228 186h1v1h-1zM229 187h1v1h-1zM230 188h1v1h-1zM231 189h1v1h-1zM232 188h1v1h-1zM233 187h1v1h-1zM234 187h1v1h-1zM235 188h1v2h-1zM236 190h1v2h-1zM237 190h1v1h-1zM238 190h1v2h-1zM239 191h1v3h-1zM240 194h1v2h-1zM241 195h1v1h-1zM242 195h1v1h-1zM243 195h1v1h-1zM244 195h1v1h-1zM245 195h1v1h-1zM246 195h1v1h-1zM247 195h1v1h-1zM248 195h1v1h-1zM249 195h1v1h-1zM250 196h1v1h-1zM251 197h1v1h-1zM252 197h1v1h-1zM253 198h1v1h-1zM254 199h1v1h-1zM255 199h1v1h-1zM256 199h1v1h-1zM257 199h1v1h-1zM258 199h1v1h-1zM259 199h1v1h-1zM260 199h1v1h-1zM261 199h1v1h-1zM262 199h1v1h-1zM263 199h1v1h-1zM264 198h1v1h-1zM265 197h1v1h-1zM266 196h1v1h-1zM267 195h1v1h-1zM268 194h1v1h-1zM269 193h1v1h-1zM270 193h1v1h-1zM271 193h1v1h-1zM272 193h1v1h-1zM273 192h1v1h-1zM274 191h1v1h-1zM275 192h1v1h-1zM276 193h1v1h-1zM277 194h1v1h-1zM278 195h1v1h-1zM279 195h1v1h-1zM280 195h1v1h-1zM281 195h1v1h-1zM282 196h1v1h-1zM283 197h1v1h-1zM284 197h1v1h-1zM285 197h1v1h-1zM286 198h1v1h-1zM287 199h1v1h-1zM288 198h1v1h-1zM289 197h1v1h-1zM290 197h1v1h-1zM291 197h1v1h-1zM292 197h1v1h-1zM293 198h1v1h-1zM294 199h1v1h-1zM295 199h1v1h-1zM296 198h1v2h-1zM297 197h1v1h-1zM298 198h1v1h-1zM299 199h1v1h-1zM300 198h1v1h-1zM301 197h1v1h-1zM302 197h1v1h-1zM303 197h1v1h-1zM304 197h1v1h-1zM305 197h1v1h-1zM306 197h1v1h-1zM307 198h1v1h-1zM308 199h1v1h-1zM309 200h1v1h-1zM310 201h1v1h-1zM311 200h1v1h-1zM312 199h1v1h-1zM313 199h1v1h-1zM314 199h1v1h-1zM315 199h1v1h-1zM316 198h1v2h-1zM317 197h1v1h-1zM318 197h1v1h-1zM319 197h1v1h-1zM320 197h1v1h-1zM321 197h1v1h-1zM322 196h1v1h-1zM323 195h1v1h-1zM324 196h1v1h-1zM325 197h1v1h-1zM326 195h1v2h-1zM327 195h1v1h-1zM328 194h1v2h-1zM329 191h1v3h-1zM330 191h1v1h-1zM331 191h1v1h-1zM332 191h1v1h-1zM333 191h1v1h-1zM334 191h1v1h-1zM335 192h1v2h-1zM336 194h1v1h-1zM337 195h1v1h-1zM338 194h1v1h-1zM339 193h1v1h-1zM340 193h1v1h-1zM341 193h1v1h-1zM342 193h1v1h-1zM343 193h1v1h-1zM344 193h1v1h-1zM345 193h1v1h-1zM346 193h1v1h-1zM347 194h1v1h-1zM348 195h1v1h-1zM349 195h1v1h-1zM350 195h1v1h-1zM351 194h1v1h-1zM352 193h1v1h-1zM353 193h1v2h-1zM354 194h1v1h-1zM355 195h1v1h-1zM356 194h1v1h-1zM357 193h1v1h-1zM358 193h1v1h-1zM359 193h1v1h-1zM360 193h1v1h-1zM361 193h1v1h-1zM362 193h1v1h-1zM363 193h1v1h-1zM364 193h1v1h-1zM365 194h1v1h-1zM366 195h1v1h-1zM367 195h1v1h-1zM368 195h1v1h-1zM369 195h1v1h-1zM370 195h1v1h-1zM371 196h1v2h-1zM372 193h1v3h-1zM373 193h1v1h-1zM374 194h1v1h-1zM375 195h1v1h-1zM376 195h1v1h-1zM377 195h1v1h-1zM378 195h1v1h-1zM379 195h1v1h-1zM380 195h1v1h-1zM381 195h1v1h-1zM382 195h1v1h-1zM383 195h1v1h-1zM384 195h1v1h-1zM385 194h1v1h-1zM386 193h1v1h-1zM387 193h1v1h-1zM388 193h1v1h-1zM389 193h1v1h-1zM390 193h1v1h-1zM391 194h1v1h-1zM392 195h1v1h-1zM393 195h1v1h-1zM394 194h1v1h-1zM395 193h1v1h-1zM396 193h1v1h-1zM397 193h1v1h-1zM398 194h1v2h-1zM399 195h1v3h-1zM400 193h1v2h-1zM401 193h1v1h-1zM402 193h1v1h-1zM403 193h1v1h-1zM404 193h1v1h-1zM405 193h1v1h-1zM406 193h1v1h-1zM407 193h1v1h-1zM408 193h1v1h-1zM409 193h1v1h-1zM410 193h1v1h-1zM411 193h1v1h-1zM412 194h1v2h-1zM413 196h1v1h-1zM414 196h1v1h-1zM415 197h1v1h-1zM416 197h1v1h-1zM417 197h1v1h-1zM418 198h1v2h-1zM419 198h1v1h-1zM420 197h1v1h-1zM421 197h1v1h-1zM422 197h1v1h-1zM423 198h1v1h-1zM424 199h1v1h-1zM425 199h1v1h-1zM426 199h1v1h-1zM427 198h1v1h-1zM428 196h1v2h-1zM429 195h1v1h-1zM430 196h1v1h-1zM431 196h1v2h-1zM432 197h1v1h-1zM433 197h1v1h-1zM434 198h1v2h-1zM435 200h1v2h-1zM436 199h1v1h-1zM437 198h1v1h-1zM438 198h1v2h-1zM439 199h1v1h-1zM440 199h1v1h-1zM441 200h1v1h-1zM442 201h1v1h-1zM443 201h1v1h-1zM444 201h1v1h-1zM445 201h1v1h-1zM446 200h1v1h-1zM447 199h1v1h-1zM448 200h1v1h-1zM449 201h1v1h-1zM450 202h1v1h-1zM451 203h1v1h-1zM452 202h1v1h-1zM453 201h1v1h-1zM454 202h1v1h-1zM455 203h1v2h-1zM456 205h1v1h-1zM457 204h1v1h-1zM458 203h1v1h-1zM459 203h1v1h-1zM460 203h1v1h-1zM461 203h1v1h-1zM462 203h1v1h-1zM463 201h1v2h-1zM464 200h1v1h-1zM465 199h1v1h-1zM466 199h1v1h-1zM467 199h1v1h-1zM468 199h1v1h-1zM469 199h1v1h-1zM470 199h1v1h-1zM471 199h1v1h-1zM472 200h1v1h-1zM473 201h1v1h-1zM474 201h1v1h-1zM475 201h1v1h-1zM476 201h1v1h-1zM477 202h1v1h-1zM478 203h1v1h-1zM479 203h1v1h-1zM480 203h1v1h-1zM481 202h1v1h-1zM482 201h1v1h-1zM483 202h1v1h-1zM484 202h1v1h-1zM485 201h1v1h-1zM486 201h1v1h-1zM487 201h1v1h-1zM488 202h1v1h-1zM489 203h1v1h-1zM490 202h1v1h-1zM491 201h1v1h-1zM492 200h1v1h-1zM493 200h1v1h-1zM494 199h1v1h-1zM495 199h1v1h-1zM496 199h1v1h-1zM497 200h1v2h-1zM498 201h1v1h-1zM499 201h1v1h-1zM500 200h1v1h-1zM501 199h1v1h-1zM502 199h1v1h-1zM503 199h1v1h-1zM504 199h1v1h-1zM505 199h1v1h-1zM506 199h1v1h-1zM507 199h1v1h-1zM508 199h1v1h-1zM509 199h1v1h-1zM510 199h1v1h-1zM511 199h1v1h-1zM512 199h1v1h-1zM513 199h1v1h-1zM514 199h1v1h-1zM515 199h1v1h-1zM516 199h1v1h-1zM517 199h1v1h-1zM518 199h1v1h-1zM519 199h1v1h-1zM520 199h1v1h-1zM521 199h1v1h-1zM522 199h1v1h-1zM523 199h1v1h-1zM524 199h1v1h-1zM525 199h1v1h-1zM526 199h1v1h-1zM527 199h1v1h-1zM528 199h1v1h-1zM529 199h1v1h-1zM530 199h1v1h-1zM531 199h1v1h-1zM532 199h1v1h-1zM533 199h1v1h-1zM534 199h1v1h-1zM535 199h1v1h-1zM536 199h1v1h-1zM537 199h1v1h-1zM538 198h1v2h-1zM539 197h1v1h-1zM540 196h1v1h-1zM541 195h1v1h-1zM542 195h1v1h-1zM543 195h1v1h-1zM544 196h1v1h-1zM545 197h1v1h-1zM546 196h1v1h-1zM547 195h1v1h-1zM548 196h1v1h-1zM549 197h1v1h-1zM550 197h1v1h-1zM551 196h1v1h-1zM552 195h1v1h-1zM553 195h1v1h-1zM554 195h1v1h-1zM555 196h1v1h-1zM556 197h1v1h-1zM557 196h1v1h-1zM558 194h1v2h-1zM559 193h1v1h-1zM560 194h1v1h-1zM561 195h1v1h-1zM562 194h1v1h-1zM563 193h1v1h-1zM564 193h1v1h-1zM565 193h1v1h-1zM566 193h1v1h-1zM567 193h1v1h-1zM568 193h1v1h-1zM569 194h1v1h-1zM570 195h1v1h-1zM571 195h1v1h-1zM572 195h1v1h-1zM573 195h1v1h-1zM574 194h1v2h-1zM575 193h1v1h-1zM576 193h1v1h-1zM577 193h1v1h-1zM578 193h1v1h-1zM579 193h1v1h-1zM580 193h1v1h-1zM581 193h1v1h-1zM582 193h1v1h-1zM583 193h1v1h-1zM584 193h1v1h-1zM585 193h1v1h-1zM586 193h1v1h-1zM587 193h1v1h-1zM588 193h1v1h-1zM589 193h1v1h-1zM590 193h1v1h-1zM591 192h1v1h-1zM592 191h1v1h-1zM593 191h1v1h-1zM594 191h1v1h-1zM595 191h1v1h-1zM596 192h1v1h-1zM597 193h1v1h-1zM598 193h1v1h-1zM599 193h1v1h-1zM600 193h1v1h-1zM601 192h1v2h-1zM602 191h1v1h-1zM603 190h1v1h-1zM604 189h1v1h-1zM605 189h1v1h-1zM606 189h1v1h-1zM607 190h1v2h-1zM608 192h1v2h-1zM609 193h1v1h-1zM610 193h1v1h-1zM611 193h1v1h-1zM612 193h1v1h-1zM613 193h1v1h-1zM614 193h1v1h-1zM615 193h1v1h-1zM616 194h1v1h-1zM617 195h1v1h-1zM618 195h1v1h-1zM619 195h1v1h-1zM620 195h1v1h-1zM621 195h1v1h-1zM622 195h1v1h-1zM623 195h1v1h-1zM624 195h1v1h-1zM625 194h1v1h-1zM626 193h1v1h-1zM627 193h1v1h-1zM628 193h1v1h-1zM629 194h1v1h-1zM630 195h1v1h-1zM631 193h1v2h-1zM632 193h1v1h-1zM633 193h1v1h-1zM634 193h1v1h-1zM635 193h1v1h-1zM636 193h1v2h-1zM637 195h1v1h-1zM638 196h1v2h-1zM639 197h1v1h-1zM640 197h1v1h-1zM641 196h1v1h-1zM642 195h1v1h-1zM643 195h1v1h-1zM644 195h1v1h-1zM645 195h1v1h-1zM646 195h1v1h-1zM647 195h1v1h-1zM648 195h1v1h-1zM649 195h1v1h-1zM650 195h1v1h-1zM651 195h1v1h-1zM652 195h1v1h-1zM653 195h1v1h-1zM654 195h1v1h-1zM655 195h1v1h-1zM656 195h1v1h-1zM657 195h1v1h-1zM658 196h1v2h-1zM659 197h1v1h-1zM660 197h1v1h-1zM661 197h1v1h-1zM662 197h1v1h-1zM663 198h1v1h-1zM664 199h1v1h-1zM665 198h1v1h-1zM666 197h1v1h-1zM667 198h1v1h-1zM668 199h1v2h-1zM669 201h1v1h-1zM670 200h1v1h-1zM671 199h1v1h-1zM672 199h1v1h-1zM673 199h1v1h-1zM674 200h1v1h-1zM675 201h1v1h-1zM676 199h1v2h-1zM677 198h1v1h-1zM678 197h1v1h-1zM679 198h1v1h-1zM680 199h1v1h-1zM681 199h1v1h-1zM682 199h1v1h-1zM683 199h1v1h-1zM684 199h1v1h-1zM685 199h1v1h-1zM686 199h1v1h-1zM687 199h1v1h-1zM688 199h1v1h-1zM689 199h1v1h-1zM690 199h1v1h-1zM691 199h1v1h-1zM692 199h1v1h-1zM693 199h1v1h-1zM694 199h1v1h-1zM695 199h1v1h-1zM696 199h1v1h-1zM697 199h1v1h-1zM698 199h1v1h-1zM699 198h1v1h-1zM700 197h1v1h-1zM701 198h1v1h-1zM702 199h1v1h-1zM703 199h1v1h-1zM704 199h1v1h-1zM705 199h1v1h-1zM706 199h1v1h-1zM707 199h1v1h-1zM708 198h1v1h-1zM709 197h1v1h-1zM710 197h1v1h-1zM711 197h1v1h-1zM712 198h1v1h-1zM713 199h1v1h-1zM714 199h1v1h-1zM715 198h1v1h-1zM716 197h1v1h-1zM717 196h1v1h-1zM718 195h1v1h-1zM719 195h1v1h-1zM720 195h1v1h-1zM721 196h1v1h-1zM722 197h1v1h-1zM723 195h1v2h-1zM724 194h1v1h-1zM725 193h1v1h-1zM726 193h1v1h-1zM727 193h1v1h-1zM728 193h1v1h-1zM729 193h1v1h-1zM730 193h1v1h-1zM731 192h1v2h-1zM732 191h1v1h-1zM733 192h1v1h-1zM734 193h1v1h-1zM735 193h1v1h-1zM736 192h1v2h-1zM737 191h1v1h-1zM738 191h1v1h-1zM739 191h1v1h-1zM740 191h1v1h-1zM741 191h1v1h-1zM742 192h1v1h-1zM743 193h1v1h-1zM744 192h1v1h-1zM745 191h1v1h-1zM746 190h1v1h-1zM747 189h1v1h-1zM748 189h1v1h-1zM749 189h1v1h-1zM750 189h1v1h-1zM751 189h1v1h-1zM752 189h1v1h-1zM753 189h1v1h-1zM754 189h1v1h-1zM755 188h1v1h-1zM756 187h1v1h-1zM757 187h1v1h-1zM758 187h1v1h-1zM759 187h1v1h-1zM760 187h1v1h-1zM761 187h1v1h-1zM762 187h1v1h-1zM763 187h1v1h-1zM764 186h1v1h-1zM765 185h1v1h-1zM766 185h1v1h-1zM767 185h1v1h-1zM768 186h1v1h-1zM769 187h1v1h-1zM770 188h1v2h-1zM771 189h1v1h-1zM772 189h1v1h-1zM773 190h1v1h-1zM774 191h1v1h-1zM775 191h1v1h-1zM776 191h1v1h-1zM777 191h1v1h-1zM778 191h1v1h-1zM779 191h1v1h-1zM780 191h1v1h-1zM781 191h1v1h-1zM782 191h1v1h-1zM783 191h1v1h-1zM784 190h1v1h-1zM785 189h1v1h-1zM786 189h1v1h-1zM787 189h1v1h-1zM788 189h1v1h-1zM789 189h1v1h-1zM790 189h1v1h-1zM791 189h1v1h-1zM792 189h1v1h-1zM793 189h1v1h-1zM794 189h1v1h-1zM795 189h1v1h-1zM796 189h1v1h-1zM797 189h1v1h-1zM798 189h1v1h-1zM799 189h1v1h-1zM800 189h1v1h-1zM801 189h1v1h-1zM802 189h1v1h-1zM803 189h1v1h-1zM804 189h1v1h-1zM805 189h1v1h-1zM806 189h1v1h-1zM807 189h1v1h-1zM808 189h1v1h-1zM809 190h1v1h-1zM810 191h1v1h-1zM811 191h1v1h-1zM812 190h1v2h-1zM813 189h1v1h-1zM814 189h1v1h-1zM815 189h1v1h-1zM816 189h1v1h-1zM817 189h1v1h-1zM818 189h1v1h-1zM819 189h1v1h-1zM820 189h1v1h-1zM821 189h1v1h-1zM822 189h1v1h-1zM823 188h1v2h-1zM824 187h1v1h-1zM825 188h1v2h-1zM826 189h1v1h-1zM827 189h1v1h-1zM828 189h1v1h-1zM829 189h1v1h-1zM830 189h1v1h-1zM831 189h1v1h-1zM832 188h1v2h-1zM833 187h1v1h-1zM834 188h1v1h-1zM835 189h1v1h-1zM836 189h1v1h-1zM837 189h1v1h-1zM838 189h1v1h-1zM839 188h1v2h-1zM840 186h1v2h-1zM841 185h1v1h-1zM842 186h1v2h-1zM843 186h1v1h-1zM844 185h1v1h-1zM845 186h1v1h-1zM846 187h1v1h-1zM847 187h1v1h-1zM848 187h1v1h-1zM849 187h1v1h-1zM850 187h1v1h-1zM851 186h1v1h-1zM852 185h1v1h-1zM853 185h1v1h-1zM854 185h1v1h-1zM855 185h1v1h-1zM856 184h1v1h-1zM857 183h1v1h-1zM858 183h1v1h-1zM859 183h1v1h-1zM860 183h1v1h-1zM861 183h1v1h-1zM862 183h1v1h-1zM863 184h1v1h-1zM864 185h1v1h-1zM865 185h1v1h-1zM866 185h1v1h-1zM867 184h1v1h-1zM868 183h1v1h-1zM869 184h1v1h-1zM870 184h1v2h-1zM871 183h1v1h-1zM872 183h1v1h-1zM873 183h1v1h-1zM874 183h1v1h-1zM875 183h1v1h-1zM876 183h1v1h-1zM877 183h1v1h-1zM878 183h1v1h-1zM879 183h1v1h-1zM880 183h1v1h-1zM881 183h1v1h-1zM882 183h1v1h-1zM883 183h1v1h-1zM884 183h1v1h-1zM885 183h1v1h-1zM886 183h1v1h-1zM887 183h1v1h-1zM888 183h1v1h-1zM889 183h1v1h-1zM890 183h1v1h-1zM891 183h1v1h-1zM892 183h1v1h-1zM893 183h1v1h-1zM894 183h1v1h-1zM895 183h1v1h-1zM896 183h1v1h-1zM897 183h1v1h-1zM898 184h1v2h-1zM899 185h1v1h-1zM900 185h1v1h-1zM901 185h1v1h-1zM902 185h1v1h-1zM903 185h1v1h-1zM904 185h1v1h-1zM905 185h1v1h-1zM906 183h1v3h-1zM907 181h1v2h-1zM908 181h1v1h-1zM909 181h1v1h-1zM910 181h1v1h-1zM911 181h1v1h-1zM912 181h1v1h-1zM913 181h1v1h-1zM914 182h1v1h-1zM915 183h1v1h-1zM916 183h1v1h-1zM917 183h1v1h-1zM918 183h1v1h-1zM919 183h1v1h-1zM920 183h1v1h-1zM921 183h1v1h-1zM922 183h1v1h-1zM923 183h1v1h-1zM924 183h1v1h-1zM925 183h1v1h-1zM926 183h1v1h-1zM927 183h1v1h-1zM928 183h1v1h-1zM929 183h1v1h-1zM930 183h1v1h-1zM931 183h1v1h-1zM932 183h1v1h-1zM933 183h1v1h-1zM934 183h1v1h-1zM935 183h1v1h-1zM936 183h1v1h-1zM937 183h1v1h-1zM938 183h1v1h-1zM939 184h1v1h-1zM940 185h1v1h-1zM941 184h1v1h-1zM942 183h1v1h-1zM943 183h1v1h-1zM944 183h1v1h-1zM945 184h1v2h-1zM946 184h1v1h-1zM947 183h1v1h-1z"/><path fill="#0000c0" d="M45 410h1v1h-1zM46 408h1v2h-1zM47 407h1v1h-1zM48 405h1v2h-1zM49 403h1v2h-1zM50 402h1v1h-1zM51 401h1v1h-1zM52 399h1v2h-1zM53 397h1v2h-1zM54 396h1v1h-1zM55 395h1v1h-1zM56 393h1v2h-1zM57 391h1v2h-1zM58 390h1v1h-1zM59 388h1v2h-1zM60 386h1v2h-1zM61 384h1v2h-1zM62 381h1v3h-1zM63 381h1v1h-1zM64 379h1v2h-1zM65 377h1v2h-1zM66 374h1v3h-1zM67 373h1v1h-1zM68 372h1v1h-1zM69 371h1v1h-1zM70 369h1v2h-1zM71 367h1v2h-1zM72 366h1v1h-1zM73 365h1v1h-1zM74 364h1v1h-1zM75 362h1v2h-1zM76 361h1v1h-1zM77 360h1v1h-1zM78 359h1v1h-1zM79 358h1v1h-1zM80 357h1v1h-1zM81 356h1v1h-1zM82 355h1v1h-1zM83 353h1v2h-1zM84 350h1v3h-1zM85 348h1v2h-1zM86 348h1v1h-1zM87 346h1v2h-1zM88 345h1v1h-1zM89 344h1v1h-1zM90 344h1v1h-1zM91 343h1v1h-1zM92 342h1v1h-1zM93 342h1v1h-1zM94 342h1v1h-1zM95 342h1v1h-1zM96 342h1v1h-1zM97 342h1v1h-1zM98 342h1v1h-1zM99 342h1v1h-1zM100 341h1v1h-1zM101 340h1v1h-1zM102 340h1v1h-1zM103 340h1v1h-1zM104 340h1v1h-1zM105 339h1v1h-1zM106 338h1v1h-1zM107 338h1v1h-1zM108 338h1v1h-1zM109 338h1v1h-1zM110 338h1v1h-1zM111 337h1v1h-1zM112 336h1v1h-1zM113 336h1v1h-1zM114 336h1v1h-1zM115 336h1v1h-1zM116 335h1v1h-1zM117 334h1v1h-1zM118 334h1v1h-1zM119 334h1v1h-1zM120 334h1v1h-1zM121 333h1v2h-1zM122 332h1v1h-1zM123 332h1v1h-1zM124 332h1v1h-1zM125 332h1v1h-1zM126 332h1v1h-1zM127 332h1v1h-1zM128 332h1v1h-1zM129 332h1v1h-1zM130 332h1v1h-1zM131 332h1v1h-1zM132 331h1v1h-1zM133 330h1v1h-1zM134 330h1v1h-1zM135 330h1v1h-1zM136 330h1v1h-1zM137 330h1v1h-1zM138 330h1v1h-1zM139 330h1v1h-1zM140 330h1v1h-1zM141 330h1v1h-1zM142 330h1v1h-1zM143 328h1v2h-1zM144 328h1v1h-1zM145 328h1v1h-1zM146 328h1v1h-1zM147 328h1v1h-1zM148 327h1v2h-1zM149 326h1v1h-1zM150 326h1v1h-1zM151 326h1v1h-1zM152 325h1v1h-1zM153 324h1v1h-1zM154 323h1v1h-1zM155 322h1v1h-1zM156 322h1v1h-1zM157 322h1v1h-1zM158 322h1v1h-1zM159 322h1v1h-1zM160 322h1v1h-1zM161 321h1v1h-1zM162 320h1v1h-1zM163 320h1v1h-1zM164 320h1v1h-1zM165 320h1v1h-1zM166 320h1v1h-1zM167 320h1v1h-1zM168 320h1v1h-1zM169 320h1v1h-1zM170 319h1v1h-1zM171 318h1v1h-1zM172 318h1v1h-1zM173 318h1v1h-1zM174 317h1v1h-1zM175 316h1v1h-1zM176 315h1v2h-1zM177 315h1v1h-1zM178 314h1v1h-1zM179 314h1v1h-1zM180 314h1v1h-1zM181 314h1v1h-1zM182 314h1v1h-1zM183 313h1v1h-1zM184 312h1v1h-1zM185 311h1v1h-1zM186 311h1v1h-1zM187 310h1v1h-1zM188 310h1v1h-1zM189 310h1v1h-1zM190 309h1v1h-1zM191 308h1v1h-1zM192 308h1v1h-1zM193 308h1v1h-1zM194 307h1v2h-1zM195 306h1v1h-1zM196 306h1v1h-1zM197 305h1v1h-1zM198 304h1v1h-1zM199 304h1v1h-1zM200 304h1v1h-1zM201 303h1v1h-1zM202 302h1v1h-1zM203 301h1v2h-1zM204 301h1v1h-1zM205 300h1v1h-1zM206 300h1v1h-1zM207 300h1v1h-1zM208 300h1v1h-1zM209 300h1v1h-1zM210 300h1v1h-1zM211 300h1v1h-1zM212 299h1v1h-1zM213 298h1v1h-1zM214 298h1v1h-1zM215 298h1v1h-1zM216 298h1v1h-1zM217 297h1v1h-1zM218 296h1v1h-1zM219 296h1v1h-1zM220 296h1v1h-1zM221 296h1v1h-1zM222 296h1v1h-1zM223 296h1v1h-1zM224 296h1v1h-1zM225 296h1v1h-1zM226 295h1v1h-1zM227 294h1v1h-1zM228 294h1v1h-1zM229 294h1v1h-1zM230 294h1v1h-1zM231 294h1v1h-1zM232 294h1v1h-1zM233 293h1v2h-1zM234 292h1v1h-1zM235 292h1v1h-1zM236 292h1v1h-1zM237 292h1v1h-1zM238 291h1v2h-1zM239 290h1v1h-1zM240 290h1v1h-1zM241 290h1v1h-1zM242 290h1v1h-1zM243 290h1v1h-1zM244 290h1v1h-1zM245 290h1v1h-1zM246 288h1v2h-1zM247 288h1v1h-1zM248 288h1v1h-1zM249 288h1v1h-1zM250 288h1v1h-1zM251 288h1v1h-1zM252 288h1v1h-1zM253 288h1v1h-1zM254 288h1v1h-1zM255 288h1v1h-1zM256 288h1v1h-1zM257 287h1v1h-1zM258 286h1v1h-1zM259 286h1v1h-1zM260 286h1v1h-1zM261 286h1v1h-1zM262 285h1v1h-1zM263 284h1v1h-1zM264 284h1v1h-1zM265 284h1v1h-1zM266 283h1v2h-1zM267 282h1v1h-1zM268 282h1v1h-1zM269 282h1v1h-1zM270 282h1v1h-1zM271 282h1v1h-1zM272 282h1v1h-1zM273 281h1v1h-1zM274 280h1v1h-1zM275 280h1v1h-1zM276 280h1v1h-1zM277 279h1v1h-1zM278 278h1v1h-1zM279 278h1v1h-1zM280 278h1v1h-1zM281 278h1v1h-1zM282 277h1v1h-1zM283 276h1v1h-1zM284 276h1v1h-1zM285 276h1v1h-1zM286 276h1v1h-1zM287 276h1v1h-1zM288 276h1v1h-1zM289 276h1v1h-1zM290 276h1v1h-1zM291 274h1v2h-1zM292 274h1v1h-1zM293 274h1v1h-1zM294 274h1v1h-1zM295 274h1v1h-1zM296 274h1v1h-1zM297 274h1v1h-1zM298 273h1v1h-1zM299 272h1v1h-1zM300 272h1v1h-1zM301 272h1v1h-1zM302 272h1v1h-1zM303 272h1v1h-1zM304 271h1v1h-1zM305 270h1v1h-1zM306 269h1v1h-1zM307 268h1v2h-1zM308 268h1v1h-1zM309 268h1v1h-1zM310 268h1v1h-1zM311 268h1v1h-1zM312 268h1v1h-1zM313 268h1v1h-1zM314 268h1v1h-1zM315 268h1v1h-1zM316 268h1v1h-1zM317 266h1v2h-1zM318 266h1v1h-1zM319 266h1v1h-1zM320 266h1v1h-1zM321 266h1v1h-1zM322 266h1v1h-1zM323 266h1v1h-1zM324 265h1v1h-1zM325 264h1v1h-1zM326 264h1v1h-1zM327 264h1v1h-1zM328 264h1v1h-1zM329 264h1v1h-1zM330 263h1v1h-1zM331 262h1v1h-1zM332 262h1v1h-1zM333 262h1v1h-1zM334 262h1v1h-1zM335 261h1v2h-1zM336 261h1v1h-1zM337 260h1v1h-1zM338 260h1v1h-1zM339 260h1v1h-1zM340 260h1v1h-1zM341 260h1v1h-1zM342 260h1v1h-1zM343 259h1v1h-1zM344 258h1v1h-1zM345 258h1v1h-1zM346 258h1v1h-1zM347 258h1v1h-1zM348 258h1v1h-1zM349 258h1v1h-1zM350 258h1v1h-1zM351 257h1v1h-1zM352 256h1v1h-1zM353 256h1v1h-1zM354 256h1v1h-1zM355 256h1v1h-1zM356 256h1v1h-1zM357 256h1v1h-1zM358 256h1v1h-1zM359 255h1v2h-1zM360 254h1v1h-1zM361 252h1v2h-1zM362 252h1v1h-1zM363 252h1v1h-1zM364 252h1v1h-1zM365 252h1v1h-1zM366 252h1v1h-1zM367 252h1v1h-1zM368 252h1v1h-1zM369 252h1v1h-1zM370 252h1v1h-1zM371 252h1v1h-1zM372 251h1v1h-1zM373 250h1v1h-1zM374 250h1v1h-1zM375 250h1v1h-1zM376 250h1v1h-1zM377 250h1v1h-1zM378 250h1v1h-1zM379 250h1v1h-1zM380 250h1v1h-1zM381 249h1v1h-1zM382 248h1v1h-1zM383 248h1v1h-1zM384 248h1v1h-1zM385 247h1v1h-1zM386 246h1v1h-1zM387 246h1v1h-1zM388 246h1v1h-1zM389 246h1v1h-1zM390 245h1v1h-1zM391 244h1v1h-1zM392 244h1v1h-1zM393 244h1v1h-1zM394 243h1v2h-1zM395 242h1v1h-1zM396 242h1v1h-1zM397 242h1v1h-1zM398 242h1v1h-1zM399 242h1v1h-1zM400 242h1v1h-1zM401 241h1v1h-1zM402 240h1v1h-1zM403 240h1v1h-1zM404 240h1v1h-1zM405 240h1v1h-1zM406 240h1v1h-1zM407 239h1v1h-1zM408 238h1v1h-1zM409 238h1v1h-1zM410 238h1v1h-1zM411 238h1v1h-1zM412 238h1v1h-1zM413 238h1v1h-1zM414 237h1v1h-1zM415 236h1v1h-1zM416 236h1v1h-1zM417 236h1v1h-1zM418 236h1v1h-1zM419 236h1v1h-1zM420 236h1v1h-1zM421 236h1v1h-1zM422 235h1v2h-1zM423 234h1v1h-1zM424 234h1v1h-1zM425 233h1v1h-1zM426 232h1v1h-1zM427 232h1v1h-1zM428 232h1v1h-1zM429 232h1v1h-1zM430 231h1v1h-1zM431 229h1v2h-1zM432 228h1v1h-1zM433 227h1v1h-1zM434 226h1v1h-1zM435 225h1v1h-1zM436 224h1v1h-1zM437 224h1v1h-1zM438 223h1v1h-1zM439 223h1v1h-1zM440 222h1v1h-1zM441 222h1v1h-1zM442 221h1v1h-1zM443 221h1v1h-1zM444 220h1v1h-1zM445 220h1v1h-1zM446 220h1v1h-1zM447 220h1v1h-1zM448 220h1v1h-1zM449 219h1v2h-1zM450 219h1v1h-1zM451 218h1v1h-1zM452 218h1v1h-1zM453 218h1v1h-1zM454 218h1v1h-1zM455 217h1v2h-1zM456 216h1v1h-1zM457 216h1v1h-1zM458 216h1v1h-1zM459 216h1v1h-1zM460 216h1v1h-1zM461 215h1v1h-1zM462 214h1v1h-1zM463 213h1v1h-1zM464 211h1v2h-1zM465 210h1v1h-1zM466 208h1v2h-1zM467 207h1v1h-1zM468 207h1v1h-1zM469 207h1v1h-1zM470 207h1v1h-1zM471 207h1v1h-1zM472 206h1v1h-1zM473 205h1v1h-1zM474 205h1v1h-1zM475 205h1v1h-1zM476 205h1v1h-1zM477 205h1v1h-1zM478 205h1v1h-1zM479 205h1v1h-1zM480 205h1v1h-1zM481 204h1v1h-1zM482 203h1v1h-1zM483 203h1v1h-1zM484 203h1v1h-1zM485 203h1v1h-1zM486 203h1v1h-1zM487 203h1v1h-1zM488 202h1v1h-1zM489 200h1v2h-1zM490 200h1v1h-1zM491 199h1v1h-1zM492 198h1v2h-1zM493 198h1v1h-1zM494 197h1v1h-1zM495 196h1v1h-1zM496 195h1v1h-1zM497 194h1v1h-1zM498 193h1v1h-1zM499 193h1v1h-1zM500 193h1v1h-1zM501 193h1v1h-1zM502 192h1v1h-1zM503 191h1v1h-1zM504 191h1v1h-1zM505 191h1v1h-1zM506 191h1v1h-1zM507 191h1v1h-1zM508 190h1v1h-1zM509 189h1v1h-1zM510 189h1v1h-1zM511 189h1v1h-1zM512 189h1v1h-1zM513 189h1v1h-1zM514 189h1v1h-1zM515 189h1v1h-1zM516 189h1v1h-1zM517 189h1v1h-1zM518 189h1v1h-1zM519 187h1v2h-1zM520 187h1v1h-1zM521 187h1v1h-1zM522 187h1v1h-1zM523 187h1v1h-1zM524 186h1v1h-1zM525 185h1v1h-1zM526 183h1v2h-1zM527 183h1v1h-1zM528 182h1v1h-1zM529 182h1v1h-1zM530 181h1v1h-1zM531 180h1v1h-1zM532 179h1v1h-1zM533 178h1v1h-1zM534 177h1v1h-1zM535 176h1v1h-1zM536 175h1v2h-1zM537 173h1v2h-1zM538 172h1v1h-1zM539 171h1v1h-1zM540 170h1v1h-1zM541 169h1v1h-1zM542 169h1v1h-1zM543 169h1v1h-1zM544 169h1v1h-1zM545 169h1v1h-1zM546 169h1v1h-1zM547 168h1v1h-1zM548 167h1v1h-1zM549 167h1v1h-1zM550 167h1v1h-1zM551 166h1v1h-1zM552 164h1v2h-1zM553 164h1v1h-1zM554 163h1v1h-1zM555 161h1v2h-1zM556 161h1v1h-1zM557 161h1v1h-1zM558 161h1v1h-1zM559 161h1v1h-1zM560 161h1v1h-1zM561 161h1v1h-1zM562 160h1v1h-1zM563 159h1v1h-1zM564 159h1v1h-1zM565 159h1v1h-1zM566 159h1v1h-1zM567 159h1v1h-1zM568 159h1v1h-1zM569 159h1v1h-1zM570 159h1v1h-1zM571 158h1v1h-1zM572 157h1v1h-1zM573 157h1v1h-1zM574 156h1v1h-1zM575 155h1v1h-1zM576 154h1v1h-1zM577 153h1v1h-1zM578 152h1v1h-1zM579 151h1v1h-1zM580 151h1v1h-1zM581 151h1v1h-1zM582 151h1v1h-1zM583 151h1v1h-1zM584 149h1v2h-1zM585 149h1v1h-1zM586 149h1v1h-1zM587 149h1v1h-1zM588 149h1v1h-1zM589 148h1v1h-1zM590 147h1v1h-1zM591 147h1v1h-1zM592 147h1v1h-1zM593 147h1v1h-1zM594 146h1v1h-1zM595 145h1v1h-1zM596 145h1v1h-1zM597 145h1v1h-1zM598 144h1v1h-1zM599 143h1v1h-1zM600 142h1v1h-1zM601 140h1v2h-1zM602 139h1v1h-1zM603 137h1v2h-1zM604 137h1v1h-1zM605 137h1v1h-1zM606 137h1v1h-1zM607 137h1v1h-1zM608 137h1v1h-1zM609 137h1v1h-1zM610 137h1v1h-1zM611 137h1v1h-1zM612 136h1v1h-1zM613 135h1v1h-1zM614 134h1v1h-1zM615 133h1v1h-1zM616 133h1v1h-1zM617 133h1v1h-1zM618 132h1v1h-1zM619 131h1v1h-1zM620 130h1v1h-1zM621 129h1v1h-1zM622 128h1v1h-1zM623 127h1v1h-1zM624 125h1v2h-1zM625 124h1v1h-1zM626 123h1v1h-1zM627 121h1v2h-1zM628 120h1v1h-1zM629 120h1v1h-1zM630 119h1v1h-1zM631 119h1v1h-1zM632 119h1v1h-1zM633 119h1v1h-1zM634 119h1v1h-1zM635 119h1v1h-1zM636 119h1v1h-1zM637 119h1v1h-1zM638 118h1v1h-1zM639 117h1v1h-1zM640 117h1v1h-1zM641 117h1v1h-1zM642 117h1v1h-1zM643 116h1v1h-1zM644 115h1v1h-1zM645 115h1v1h-1zM646 115h1v1h-1zM647 115h1v1h-1zM648 115h1v1h-1zM649 115h1v1h-1zM650 115h1v1h-1zM651 115h1v1h-1zM652 114h1v1h-1zM653 113h1v1h-1zM654 113h1v1h-1zM655 113h1v1h-1zM656 113h1v1h-1zM657 113h1v1h-1zM658 113h1v1h-1zM659 112h1v1h-1zM660 111h1v1h-1zM661 111h1v1h-1zM662 111h1v1h-1zM663 111h1v1h-1zM664 111h1v1h-1zM665 111h1v1h-1zM666 111h1v1h-1zM667 111h1v1h-1zM668 110h1v1h-1zM669 109h1v1h-1zM670 109h1v1h-1zM671 109h1v1h-1zM672 109h1v1h-1zM673 109h1v1h-1zM674 108h1v1h-1zM675 107h1v1h-1zM676 107h1v1h-1zM677 107h1v1h-1zM678 107h1v1h-1zM679 106h1v1h-1zM680 105h1v1h-1zM681 105h1v1h-1zM682 105h1v1h-1zM683 104h1v2h-1zM684 103h1v1h-1zM685 103h1v1h-1zM686 103h1v1h-1zM687 103h1v1h-1zM688 102h1v1h-1zM689 101h1v1h-1zM690 101h1v1h-1zM691 101h1v1h-1zM692 101h1v1h-1zM693 101h1v1h-1zM694 100h1v1h-1zM695 99h1v1h-1zM696 99h1v1h-1zM697 99h1v1h-1zM698 99h1v1h-1zM699 99h1v1h-1zM700 99h1v1h-1zM701 98h1v1h-1zM702 97h1v1h-1zM703 97h1v1h-1zM704 97h1v1h-1zM705 97h1v1h-1zM706 97h1v1h-1zM707 97h1v1h-1zM708 96h1v1h-1zM709 95h1v1h-1zM710 95h1v1h-1zM711 95h1v1h-1zM712 95h1v1h-1zM713 95h1v1h-1zM714 95h1v1h-1zM715 94h1v1h-1zM716 93h1v1h-1zM717 93h1v1h-1zM718 92h1v2h-1zM719 92h1v1h-1zM720 92h1v1h-1zM721 91h1v1h-1zM722 91h1v1h-1zM723 91h1v1h-1zM724 91h1v1h-1zM725 91h1v1h-1zM726 91h1v1h-1zM727 91h1v1h-1zM728 91h1v1h-1zM729 91h1v1h-1zM730 90h1v1h-1zM731 89h1v1h-1zM732 89h1v1h-1zM733 89h1v1h-1zM734 89h1v1h-1zM735 89h1v1h-1zM736 89h1v1h-1zM737 88h1v1h-1zM738 87h1v1h-1zM739 87h1v1h-1zM740 87h1v1h-1zM741 87h1v1h-1zM742 87h1v1h-1zM743 87h1v1h-1zM744 86h1v1h-1zM745 85h1v1h-1zM746 85h1v1h-1zM747 85h1v1h-1zM748 85h1v1h-1zM749 85h1v1h-1zM750 85h1v1h-1zM751 85h1v1h-1zM752 85h1v1h-1zM753 84h1v1h-1zM754 83h1v1h-1zM755 82h1v1h-1zM756 81h1v1h-1zM757 80h1v1h-1zM758 78h1v2h-1zM759 75h1v3h-1zM760 74h1v1h-1zM761 73h1v1h-1zM762 72h1v1h-1zM763 70h1v2h-1zM764 68h1v2h-1zM765 67h1v1h-1zM766 67h1v1h-1zM767 67h1v1h-1zM768 66h1v1h-1zM769 63h1v3h-1zM770 63h1v1h-1zM771 62h1v1h-1zM772 61h1v1h-1zM773 61h1v1h-1zM774 60h1v2h-1zM775 57h1v3h-1zM776 55h1v2h-1zM777 55h1v1h-1zM778 55h1v1h-1zM779 55h1v1h-1zM780 55h1v1h-1zM781 55h1v1h-1zM782 54h1v1h-1zM783 53h1v1h-1zM784 53h1v1h-1zM785 53h1v1h-1zM786 53h1v1h-1zM787 53h1v1h-1zM788 53h1v1h-1zM789 53h1v1h-1zM790 53h1v1h-1zM791 53h1v1h-1zM792 53h1v1h-1zM793 52h1v1h-1zM794 51h1v1h-1zM795 51h1v1h-1zM796 51h1v1h-1zM797 51h1v1h-1zM798 51h1v1h-1zM799 51h1v1h-1zM800 51h1v1h-1zM801 51h1v1h-1zM802 51h1v1h-1zM803 51h1v1h-1zM804 50h1v1h-1zM805 49h1v1h-1zM806 49h1v1h-1zM807 49h1v1h-1zM808 49h1v1h-1zM809 49h1v1h-1zM810 49h1v1h-1zM811 49h1v1h-1zM812 49h1v1h-1zM813 49h1v1h-1zM814 48h1v1h-1zM815 47h1v1h-1zM816 47h1v1h-1zM817 47h1v1h-1zM818 47h1v1h-1zM819 47h1v1h-1zM820 47h1v1h-1zM821 47h1v1h-1zM822 47h1v1h-1zM823 47h1v1h-1zM824 47h1v1h-1zM825 46h1v1h-1zM826 45h1v1h-1zM827 45h1v1h-1zM828 45h1v1h-1zM829 45h1v1h-1zM830 45h1v1h-1zM831 45h1v1h-1zM832 45h1v1h-1zM833 45h1v1h-1zM834 45h1v1h-1zM835 45h1v1h-1zM836 44h1v1h-1zM837 43h1v1h-1zM838 43h1v1h-1zM839 43h1v1h-1zM840 43h1v1h-1zM841 43h1v1h-1zM842 43h1v1h-1zM843 42h1v2h-1zM844 41h1v1h-1zM845 41h1v1h-1zM846 41h1v1h-1zM847 41h1v1h-1zM848 41h1v1h-1zM849 41h1v1h-1zM850 41h1v1h-1zM851 41h1v1h-1zM852 40h1v2h-1zM853 39h1v1h-1zM854 39h1v1h-1zM855 39h1v1h-1zM856 39h1v1h-1zM857 39h1v1h-1zM858 38h1v1h-1zM859 37h1v1h-1zM860 37h1v1h-1zM861 37h1v1h-1zM862 37h1v1h-1zM863 37h1v1h-1zM864 37h1v1h-1zM865 36h1v1h-1zM866 35h1v1h-1zM867 35h1v1h-1zM868 35h1v1h-1zM869 35h1v1h-1zM870 35h1v1h-1zM871 35h1v1h-1zM872 34h1v1h-1zM873 33h1v1h-1zM874 33h1v1h-1zM875 33h1v1h-1zM876 33h1v1h-1zM877 33h1v1h-1zM878 33h1v1h-1zM879 33h1v1h-1zM880 33h1v1h-1zM881 32h1v1h-1zM882 31h1v1h-1zM883 31h1v1h-1zM884 31h1v1h-1zM885 31h1v1h-1zM886 31h1v1h-1zM887 31h1v1h-1zM888 30h1v1h-1zM889 29h1v1h-1zM890 29h1v1h-1zM891 29h1v1h-1zM892 29h1v1h-1zM893 29h1v1h-1zM894 29h1v1h-1zM895 29h1v1h-1zM896 29h1v1h-1zM897 28h1v1h-1zM898 27h1v1h-1zM899 27h1v1h-1zM900 27h1v1h-1zM901 27h1v1h-1zM902 27h1v1h-1zM903 27h1v1h-1zM904 27h1v1h-1zM905 26h1v1h-1zM906 25h1v1h-1zM907 25h1v1h-1zM908 25h1v1h-1zM909 25h1v1h-1zM910 25h1v1h-1zM911 25h1v1h-1zM912 24h1v1h-1zM913 23h1v1h-1zM914 23h1v1h-1zM915 23h1v1h-1zM916 23h1v1h-1zM917 22h1v1h-1zM918 21h1v1h-1zM919 21h1v1h-1zM920 21h1v1h-1zM921 21h1v1h-1zM922 21h1v1h-1zM923 20h1v1h-1zM924 19h1v1h-1zM925 19h1v1h-1zM926 18h1v2h-1zM927 17h1v1h-1zM928 17h1v1h-1zM929 17h1v1h-1zM930 17h1v1h-1zM931 17h1v1h-1zM932 16h1v1h-1zM933 15h1v1h-1zM934 15h1v1h-1zM935 15h1v1h-1zM936 13h1v2h-1zM937 13h1v1h-1zM938 13h1v1h-1zM939 13h1v1h-1zM940 13h1v1h-1zM941 12h1v1h-1zM942 11h1v1h-1zM943 11h1v1h-1zM944 11h1v1h-1zM945 11h1v1h-1zM946 10h1v1h-1zM947 9h1v1h-1z"/></svg>
<div id="labs"><div class="l" style="top:2px;width:38px">3010</div><div class="l" style="top:22px;width:38px">3000</div><div class="l" style="top:42px;width:37px">2990</div><div class="l" style="top:62px;width:37px">2980</div><div class="l" style="top:82px;width:37px">2970</div><div class="l" style="top:102px;width:37px">2960</div><div class="l" style="top:122px;width:37px">2950</div><div class="l" style="top:142px;width:37px">2940</div><div class="l" style="top:162px;width:37px">2930</div><div class="l" style="top:182px;width:37px">2920</div><div class="l" style="top:202px;width:37px">2910</div><div class="l" style="top:223px;width:37px">2900</div><div class="l" style="top:243px;width:37px">2890</div><div class="l" style="top:263px;width:37px">2880</div><div class="l" style="top:283px;width:37px">2870</div><div class="l" style="top:303px;width:37px">2860</div><div class="l" style="top:323px;width:37px">2850</div><div class="l" style="top:343px;width:37px">2840</div><div class="l" style="top:363px;width:37px">2830</div><div class="l" style="top:383px;width:37px">2820</div><div class="l" style="top:403px;width:37px">2810</div></div>
</body></html>
